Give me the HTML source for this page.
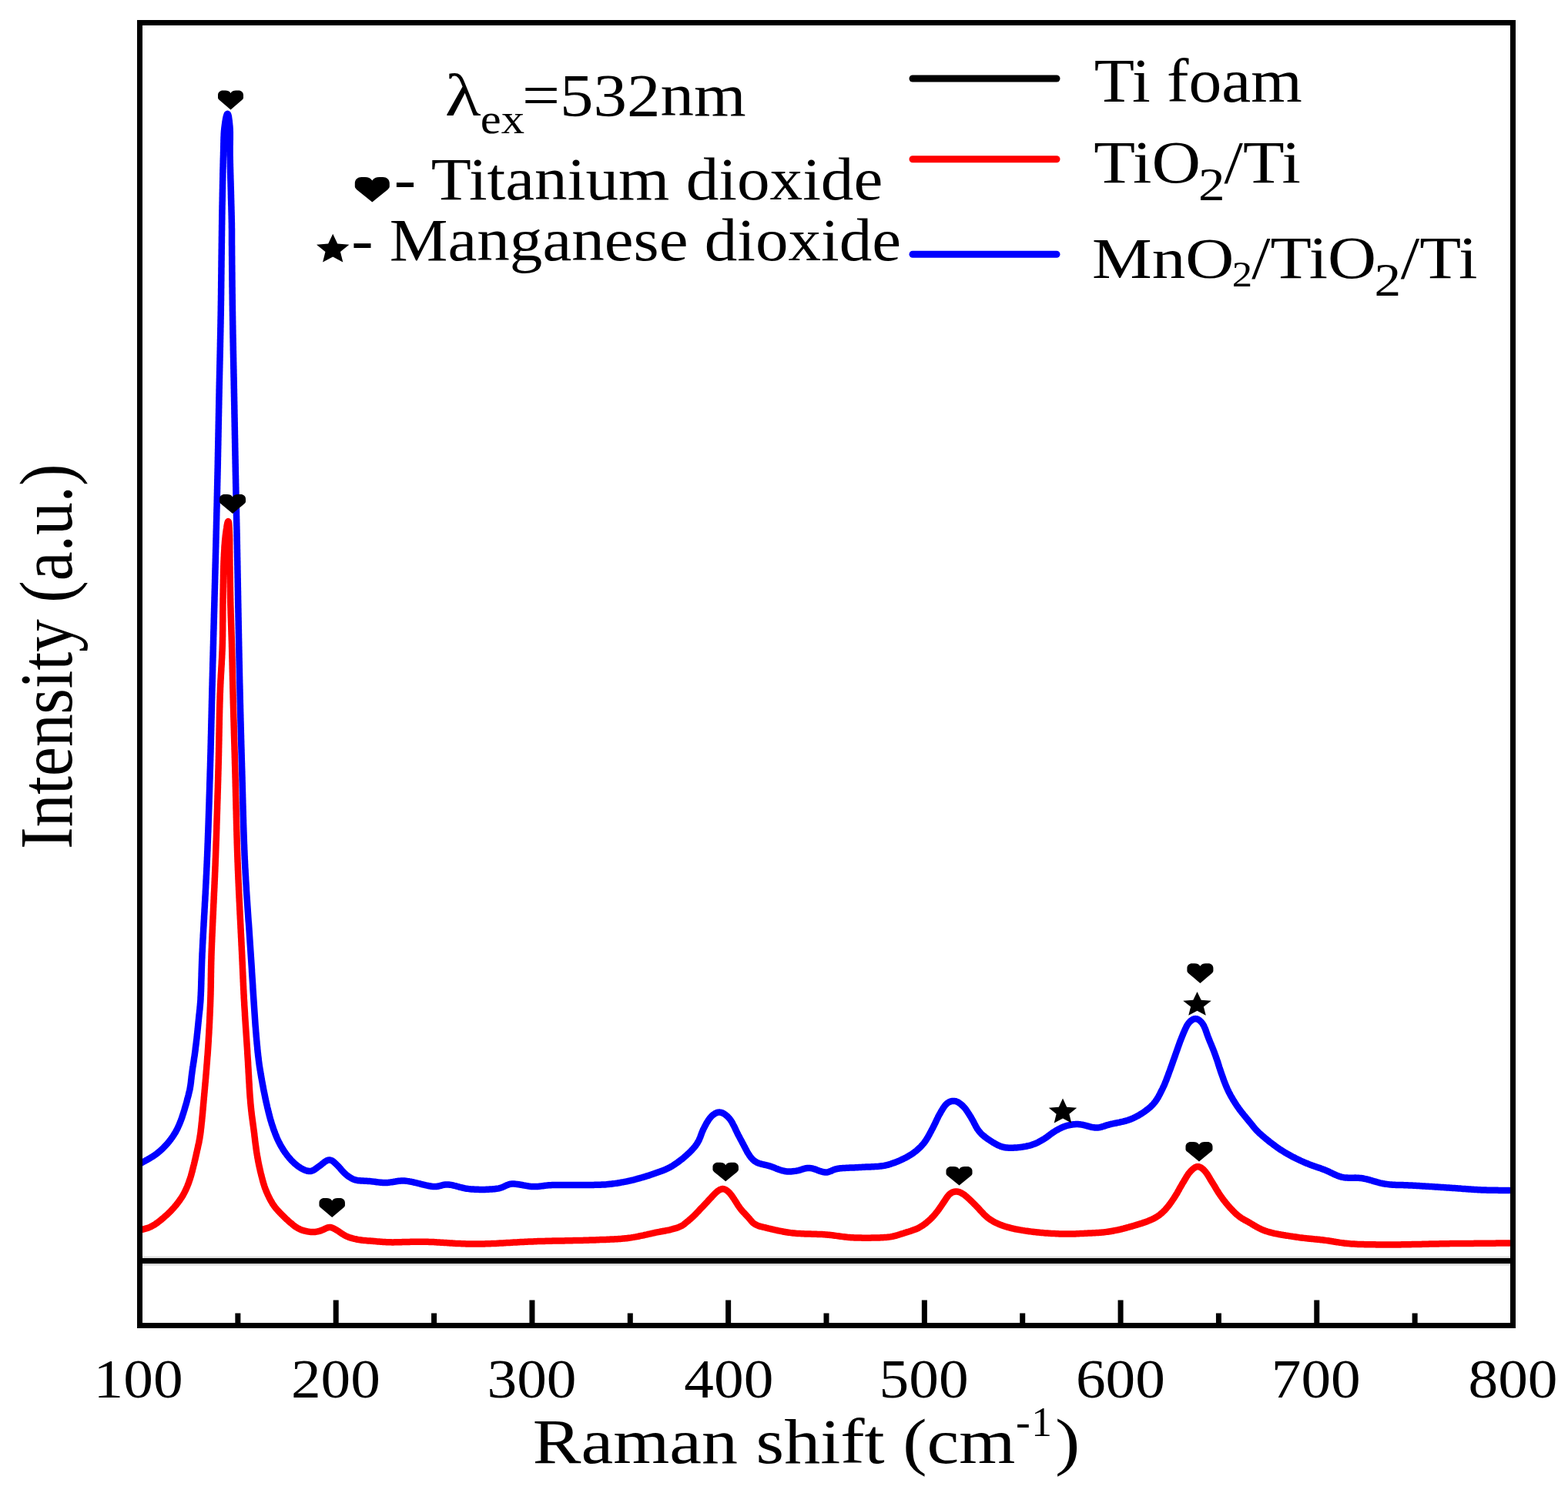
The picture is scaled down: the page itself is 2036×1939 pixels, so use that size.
<!DOCTYPE html>
<html><head><meta charset="utf-8"><title>Raman spectra</title>
<style>
html,body{margin:0;padding:0;background:#fff;}
body{width:2036px;height:1939px;overflow:hidden;}
svg{display:block;}
text{font-family:"Liberation Serif","Times New Roman",serif;}
</style></head>
<body>
<svg width="2036" height="1939" viewBox="0 0 2036 1939">
<rect width="2036" height="1939" fill="#fff"/>
<rect x="305.36" y="1705.50" width="7" height="16" fill="#000"/>
<rect x="432.71" y="1688.50" width="7" height="33" fill="#000"/>
<rect x="560.07" y="1705.50" width="7" height="16" fill="#000"/>
<rect x="687.43" y="1688.50" width="7" height="33" fill="#000"/>
<rect x="814.79" y="1705.50" width="7" height="16" fill="#000"/>
<rect x="942.14" y="1688.50" width="7" height="33" fill="#000"/>
<rect x="1069.50" y="1705.50" width="7" height="16" fill="#000"/>
<rect x="1196.86" y="1688.50" width="7" height="33" fill="#000"/>
<rect x="1324.21" y="1705.50" width="7" height="16" fill="#000"/>
<rect x="1451.57" y="1688.50" width="7" height="33" fill="#000"/>
<rect x="1578.93" y="1705.50" width="7" height="16" fill="#000"/>
<rect x="1706.29" y="1688.50" width="7" height="33" fill="#000"/>
<rect x="1833.64" y="1705.50" width="7" height="16" fill="#000"/>
<text transform="translate(121.57,1815.00) scale(1.0800,1)" font-size="71.60">100</text>
<text transform="translate(377.93,1815.00) scale(1.0800,1)" font-size="71.60">200</text>
<text transform="translate(632.55,1815.00) scale(1.0800,1)" font-size="71.60">300</text>
<text transform="translate(888.32,1815.00) scale(1.0800,1)" font-size="71.60">400</text>
<text transform="translate(1141.59,1815.00) scale(1.0800,1)" font-size="71.60">500</text>
<text transform="translate(1396.88,1815.00) scale(1.0800,1)" font-size="71.60">600</text>
<text transform="translate(1650.73,1815.00) scale(1.0800,1)" font-size="71.60">700</text>
<text transform="translate(1906.50,1815.00) scale(1.0800,1)" font-size="71.60">800</text>
<rect x="181.5" y="1634" width="1783.0" height="7" fill="#000"/>
<rect x="181.5" y="1631.5" width="1783.0" height="2.5" fill="#000" fill-opacity="0.12"/>
<rect x="181.5" y="1641" width="1783.0" height="2.5" fill="#000" fill-opacity="0.15"/>
<path d="M182.4,1597.5 L183.3,1597.3 L184.5,1596.9 L185.9,1596.5 L187.3,1596.2 L188.7,1595.7 L190.1,1595.3 L191.6,1594.9 L193.0,1594.4 L194.4,1593.8 L195.8,1593.2 L197.1,1592.5 L198.4,1591.8 L199.7,1591.1 L201.0,1590.3 L202.2,1589.4 L203.4,1588.6 L204.7,1587.7 L205.8,1586.8 L207.0,1585.9 L208.2,1584.9 L209.4,1584.0 L210.5,1583.0 L211.7,1582.1 L212.8,1581.1 L213.9,1580.1 L215.1,1579.1 L216.2,1578.1 L217.3,1577.1 L218.4,1576.1 L219.5,1575.0 L220.5,1574.0 L221.6,1572.9 L222.6,1571.8 L223.6,1570.7 L224.7,1569.6 L225.7,1568.5 L226.6,1567.4 L227.6,1566.2 L228.6,1565.1 L229.5,1563.9 L230.4,1562.7 L231.4,1561.5 L232.3,1560.3 L233.1,1559.1 L234.0,1557.9 L234.8,1556.7 L235.7,1555.4 L236.5,1554.1 L237.3,1552.9 L238.0,1551.6 L238.7,1550.3 L239.4,1548.9 L240.1,1547.6 L240.8,1546.2 L241.4,1544.9 L242.0,1543.5 L242.6,1542.1 L243.2,1540.8 L243.7,1539.4 L244.3,1538.0 L244.8,1536.6 L245.3,1535.2 L245.8,1533.7 L246.3,1532.3 L246.8,1530.9 L247.2,1529.5 L247.7,1528.0 L248.1,1526.6 L248.5,1525.1 L248.9,1523.7 L249.3,1522.2 L249.7,1520.8 L250.0,1519.3 L250.4,1517.9 L250.8,1516.4 L251.1,1515.0 L251.5,1513.5 L251.9,1512.1 L252.2,1510.6 L252.6,1509.2 L252.9,1507.7 L253.3,1506.2 L253.6,1504.8 L253.9,1503.3 L254.3,1501.8 L254.6,1500.4 L254.9,1498.9 L255.3,1497.5 L255.6,1496.0 L255.9,1494.5 L256.2,1493.1 L256.6,1491.6 L256.9,1490.1 L257.2,1488.7 L257.5,1487.2 L257.9,1485.7 L258.2,1484.3 L258.5,1482.8 L258.7,1481.3 L259.0,1479.9 L259.3,1478.4 L259.5,1476.9 L259.7,1475.4 L260.0,1473.9 L260.2,1472.4 L260.4,1471.0 L260.6,1469.5 L260.7,1468.0 L260.9,1466.5 L261.1,1465.0 L261.3,1463.5 L261.4,1462.0 L261.6,1460.5 L261.7,1459.0 L261.9,1457.5 L262.1,1456.1 L262.2,1454.6 L262.3,1453.1 L262.5,1451.6 L262.6,1450.1 L262.8,1448.6 L262.9,1447.1 L263.1,1445.6 L263.2,1444.1 L263.3,1442.6 L263.5,1441.1 L263.6,1439.6 L263.7,1438.1 L263.9,1436.6 L264.0,1435.1 L264.1,1433.6 L264.3,1432.2 L264.4,1430.7 L264.5,1429.2 L264.7,1427.7 L264.8,1426.2 L264.9,1424.7 L265.1,1423.2 L265.2,1421.7 L265.3,1420.2 L265.5,1418.7 L265.6,1417.2 L265.7,1415.7 L265.9,1414.2 L266.0,1412.7 L266.1,1411.2 L266.3,1409.7 L266.4,1408.2 L266.5,1406.7 L266.7,1405.3 L266.8,1403.8 L266.9,1402.3 L267.1,1400.8 L267.2,1399.3 L267.3,1397.8 L267.4,1396.3 L267.6,1394.8 L267.7,1393.3 L267.8,1391.8 L267.9,1390.3 L268.1,1388.8 L268.2,1387.3 L268.3,1385.8 L268.4,1384.3 L268.5,1382.8 L268.7,1381.3 L268.8,1379.8 L268.9,1378.3 L269.0,1376.8 L269.1,1375.4 L269.2,1373.9 L269.3,1372.4 L269.5,1370.9 L269.6,1369.4 L269.7,1367.9 L269.8,1366.4 L269.9,1364.9 L270.0,1363.4 L270.1,1361.9 L270.2,1360.4 L270.3,1358.9 L270.4,1357.4 L270.5,1355.9 L270.6,1354.4 L270.7,1352.9 L270.8,1351.4 L270.8,1349.9 L270.9,1348.4 L271.0,1346.9 L271.1,1345.4 L271.2,1343.9 L271.3,1342.4 L271.4,1340.9 L271.4,1339.4 L271.5,1337.9 L271.6,1336.4 L271.7,1334.9 L271.8,1333.4 L271.8,1331.9 L271.9,1330.4 L272.0,1328.9 L272.1,1327.4 L272.1,1325.9 L272.2,1324.4 L272.3,1322.9 L272.3,1321.4 L272.4,1319.9 L272.5,1318.4 L272.5,1316.9 L272.6,1315.4 L272.7,1313.9 L272.7,1312.4 L272.8,1310.9 L272.8,1309.5 L272.9,1308.0 L273.0,1306.5 L273.0,1305.0 L273.1,1303.5 L273.1,1302.0 L273.2,1300.5 L273.2,1299.0 L273.3,1297.5 L273.3,1296.0 L273.4,1294.5 L273.4,1293.0 L273.5,1291.5 L273.5,1290.0 L273.5,1288.5 L273.6,1287.0 L273.6,1285.5 L273.6,1284.0 L273.7,1282.5 L273.7,1281.0 L273.7,1279.5 L273.7,1278.0 L273.8,1276.5 L273.8,1275.0 L273.8,1273.5 L273.8,1272.0 L273.8,1270.5 L273.9,1269.0 L273.9,1267.5 L273.9,1266.0 L273.9,1264.5 L274.0,1263.0 L274.0,1261.5 L274.0,1260.0 L274.0,1258.5 L274.1,1257.0 L274.1,1255.5 L274.1,1254.0 L274.2,1252.5 L274.2,1251.0 L274.2,1249.5 L274.3,1248.0 L274.3,1246.5 L274.4,1245.0 L274.4,1243.5 L274.4,1242.0 L274.5,1240.5 L274.5,1239.0 L274.6,1237.5 L274.6,1236.0 L274.7,1234.5 L274.7,1233.0 L274.8,1231.5 L274.9,1230.0 L274.9,1228.5 L275.0,1227.0 L275.0,1225.5 L275.1,1224.0 L275.2,1222.5 L275.2,1221.0 L275.3,1219.5 L275.3,1218.0 L275.4,1216.5 L275.5,1215.0 L275.5,1213.5 L275.6,1212.0 L275.7,1210.5 L275.7,1209.0 L275.8,1207.5 L275.9,1206.0 L275.9,1204.5 L276.0,1203.0 L276.1,1201.5 L276.1,1200.0 L276.2,1198.5 L276.3,1197.0 L276.3,1195.5 L276.4,1194.0 L276.5,1192.5 L276.5,1191.0 L276.6,1189.5 L276.7,1188.0 L276.8,1186.5 L276.8,1185.0 L276.9,1183.5 L277.0,1182.0 L277.0,1180.5 L277.1,1179.0 L277.2,1177.5 L277.2,1176.0 L277.3,1174.5 L277.4,1173.0 L277.5,1171.5 L277.5,1170.0 L277.6,1168.5 L277.7,1167.0 L277.7,1165.5 L277.8,1164.0 L277.9,1162.5 L277.9,1161.0 L278.0,1159.5 L278.1,1158.0 L278.2,1156.5 L278.2,1155.0 L278.3,1153.5 L278.4,1152.0 L278.4,1150.5 L278.5,1149.0 L278.6,1147.5 L278.6,1146.0 L278.7,1144.5 L278.8,1143.0 L278.8,1141.5 L278.9,1140.0 L279.0,1138.5 L279.0,1137.0 L279.1,1135.6 L279.1,1134.1 L279.2,1132.6 L279.3,1131.1 L279.3,1129.6 L279.4,1128.1 L279.4,1126.6 L279.5,1125.1 L279.6,1123.6 L279.6,1122.1 L279.7,1120.6 L279.7,1119.1 L279.8,1117.6 L279.8,1116.1 L279.9,1114.6 L280.0,1113.1 L280.0,1111.6 L280.1,1110.1 L280.1,1108.6 L280.2,1107.1 L280.2,1105.6 L280.3,1104.1 L280.3,1102.6 L280.4,1101.1 L280.4,1099.6 L280.5,1098.1 L280.5,1096.6 L280.6,1095.1 L280.6,1093.6 L280.7,1092.1 L280.8,1090.6 L280.8,1089.1 L280.9,1087.6 L280.9,1086.1 L281.0,1084.6 L281.0,1083.1 L281.1,1081.6 L281.1,1080.1 L281.2,1078.6 L281.2,1077.1 L281.3,1075.6 L281.3,1074.1 L281.3,1072.6 L281.4,1071.1 L281.4,1069.6 L281.5,1068.1 L281.5,1066.6 L281.6,1065.1 L281.6,1063.6 L281.7,1062.1 L281.7,1060.6 L281.8,1059.1 L281.8,1057.6 L281.9,1056.1 L281.9,1054.6 L282.0,1053.1 L282.0,1051.6 L282.1,1050.1 L282.1,1048.6 L282.1,1047.1 L282.2,1045.6 L282.2,1044.1 L282.3,1042.6 L282.3,1041.1 L282.4,1039.6 L282.4,1038.1 L282.5,1036.6 L282.5,1035.1 L282.5,1033.6 L282.6,1032.1 L282.6,1030.6 L282.7,1029.1 L282.7,1027.6 L282.8,1026.1 L282.8,1024.6 L282.9,1023.1 L282.9,1021.6 L282.9,1020.1 L283.0,1018.6 L283.0,1017.1 L283.1,1015.6 L283.1,1014.1 L283.2,1012.6 L283.2,1011.1 L283.2,1009.6 L283.3,1008.1 L283.3,1006.6 L283.4,1005.1 L283.4,1003.6 L283.4,1002.1 L283.5,1000.6 L283.5,999.1 L283.6,997.6 L283.6,996.1 L283.6,994.6 L283.7,993.1 L283.7,991.6 L283.8,990.1 L283.8,988.6 L283.8,987.1 L283.9,985.6 L283.9,984.1 L283.9,982.6 L284.0,981.1 L284.0,979.6 L284.0,978.1 L284.1,976.6 L284.1,975.1 L284.1,973.6 L284.1,972.1 L284.2,970.6 L284.2,969.1 L284.2,967.6 L284.3,966.1 L284.3,964.6 L284.3,963.1 L284.4,961.6 L284.4,960.1 L284.4,958.6 L284.4,957.1 L284.5,955.6 L284.5,954.1 L284.5,952.6 L284.6,951.1 L284.6,949.6 L284.6,948.1 L284.6,946.6 L284.7,945.1 L284.7,943.6 L284.7,942.1 L284.8,940.6 L284.8,939.1 L284.8,937.6 L284.8,936.1 L284.9,934.6 L284.9,933.1 L284.9,931.6 L285.0,930.1 L285.0,928.6 L285.0,927.1 L285.1,925.6 L285.1,924.1 L285.1,922.6 L285.2,921.1 L285.2,919.6 L285.3,918.1 L285.3,916.6 L285.3,915.1 L285.4,913.6 L285.4,912.1 L285.5,910.6 L285.5,909.1 L285.6,907.6 L285.6,906.1 L285.6,904.6 L285.7,903.1 L285.7,901.6 L285.8,900.1 L285.9,898.6 L285.9,897.1 L286.0,895.6 L286.0,894.1 L286.1,892.6 L286.2,891.1 L286.2,889.6 L286.3,888.1 L286.4,886.6 L286.4,885.1 L286.5,883.6 L286.6,882.1 L286.7,880.6 L286.8,879.1 L286.8,877.6 L286.9,876.1 L287.0,874.6 L287.1,873.1 L287.2,871.7 L287.3,870.2 L287.3,868.7 L287.4,867.2 L287.5,865.7 L287.6,864.2 L287.7,862.7 L287.8,861.2 L287.8,859.7 L287.9,858.2 L288.0,856.7 L288.1,855.2 L288.2,853.7 L288.2,852.2 L288.3,850.7 L288.4,849.2 L288.4,847.7 L288.5,846.2 L288.6,844.7 L288.6,843.2 L288.7,841.7 L288.7,840.2 L288.8,838.7 L288.8,837.2 L288.9,835.7 L288.9,834.2 L288.9,832.7 L289.0,831.2 L289.0,829.7 L289.0,828.2 L289.1,826.7 L289.1,825.2 L289.1,823.7 L289.1,822.2 L289.1,820.7 L289.2,819.2 L289.2,817.7 L289.2,816.2 L289.2,814.7 L289.2,813.2 L289.2,811.7 L289.2,810.2 L289.2,808.7 L289.3,807.2 L289.3,805.7 L289.3,804.2 L289.3,802.7 L289.3,801.2 L289.3,799.7 L289.3,798.2 L289.3,796.7 L289.3,795.2 L289.3,793.7 L289.4,792.2 L289.4,790.7 L289.4,789.2 L289.4,787.7 L289.4,786.2 L289.4,784.7 L289.5,783.2 L289.5,781.7 L289.5,780.2 L289.5,778.7 L289.5,777.2 L289.6,775.7 L289.6,774.2 L289.6,772.7 L289.6,771.2 L289.7,769.7 L289.7,768.2 L289.7,766.7 L289.7,765.2 L289.8,763.7 L289.8,762.2 L289.8,760.7 L289.8,759.2 L289.9,757.7 L289.9,756.2 L289.9,754.7 L289.9,753.2 L290.0,751.7 L290.0,750.2 L290.0,748.7 L290.0,747.2 L290.1,745.7 L290.1,744.2 L290.1,742.7 L290.2,741.2 L290.2,739.7 L290.3,738.2 L290.3,736.7 L290.3,735.2 L290.4,733.7 L290.4,732.2 L290.5,730.7 L290.5,729.2 L290.6,727.7 L290.7,726.2 L290.7,724.7 L290.8,723.2 L290.9,721.7 L290.9,720.2 L291.0,718.7 L291.1,717.2 L291.2,715.7 L291.3,714.2 L291.4,712.7 L291.4,711.2 L291.5,709.7 L291.6,708.2 L291.8,706.7 L291.9,705.2 L292.0,703.7 L292.1,702.2 L292.3,700.7 L292.4,699.3 L292.6,697.8 L292.7,696.3 L292.9,694.8 L293.1,693.3 L293.3,691.8 L293.5,690.3 L293.7,688.8 L293.9,687.3 L294.2,685.9 L294.4,684.4 L294.6,682.9 L294.9,681.4 L295.2,680.0 L295.5,678.7 L295.9,677.6 L296.3,677.1 L296.6,677.2 L296.9,678.0 L297.2,679.2 L297.3,680.6 L297.4,682.1 L297.5,683.6 L297.6,685.1 L297.7,686.6 L297.7,688.1 L297.8,689.6 L297.9,691.1 L297.9,692.6 L298.0,694.1 L298.1,695.6 L298.1,697.1 L298.1,698.6 L298.2,700.1 L298.2,701.6 L298.2,703.1 L298.2,704.6 L298.2,706.1 L298.2,707.6 L298.2,709.1 L298.2,710.6 L298.2,712.1 L298.2,713.6 L298.2,715.1 L298.3,716.6 L298.3,718.1 L298.3,719.6 L298.3,721.1 L298.3,722.6 L298.3,724.1 L298.3,725.6 L298.4,727.1 L298.4,728.6 L298.4,730.1 L298.4,731.6 L298.4,733.1 L298.4,734.6 L298.5,736.1 L298.5,737.6 L298.5,739.1 L298.5,740.6 L298.5,742.1 L298.6,743.6 L298.6,745.1 L298.6,746.6 L298.6,748.1 L298.7,749.6 L298.7,751.1 L298.7,752.6 L298.7,754.1 L298.7,755.6 L298.8,757.1 L298.8,758.6 L298.8,760.1 L298.8,761.6 L298.9,763.1 L298.9,764.6 L298.9,766.1 L298.9,767.6 L299.0,769.1 L299.0,770.6 L299.0,772.1 L299.1,773.6 L299.1,775.1 L299.1,776.6 L299.2,778.1 L299.2,779.6 L299.2,781.1 L299.3,782.6 L299.3,784.1 L299.3,785.6 L299.4,787.1 L299.4,788.6 L299.5,790.1 L299.5,791.6 L299.6,793.1 L299.6,794.6 L299.6,796.1 L299.7,797.5 L299.7,799.0 L299.8,800.5 L299.8,802.0 L299.9,803.5 L299.9,805.0 L300.0,806.5 L300.0,808.0 L300.1,809.5 L300.1,811.0 L300.2,812.5 L300.2,814.0 L300.3,815.5 L300.3,817.0 L300.4,818.5 L300.4,820.0 L300.5,821.5 L300.5,823.0 L300.6,824.5 L300.6,826.0 L300.7,827.5 L300.7,829.0 L300.8,830.5 L300.8,832.0 L300.9,833.5 L300.9,835.0 L301.0,836.5 L301.0,838.0 L301.0,839.5 L301.1,841.0 L301.1,842.5 L301.2,844.0 L301.2,845.5 L301.2,847.0 L301.3,848.5 L301.3,850.0 L301.3,851.5 L301.4,853.0 L301.4,854.5 L301.5,856.0 L301.5,857.5 L301.5,859.0 L301.6,860.5 L301.6,862.0 L301.6,863.5 L301.7,865.0 L301.7,866.5 L301.7,868.0 L301.8,869.5 L301.8,871.0 L301.8,872.5 L301.9,874.0 L301.9,875.5 L301.9,877.0 L302.0,878.5 L302.0,880.0 L302.0,881.5 L302.1,883.0 L302.1,884.5 L302.2,886.0 L302.2,887.5 L302.2,889.0 L302.3,890.5 L302.3,892.0 L302.3,893.5 L302.4,895.0 L302.4,896.5 L302.4,898.0 L302.5,899.5 L302.5,901.0 L302.6,902.5 L302.6,904.0 L302.6,905.5 L302.7,907.0 L302.7,908.5 L302.8,910.0 L302.8,911.5 L302.8,913.0 L302.9,914.5 L302.9,916.0 L303.0,917.5 L303.0,919.0 L303.1,920.5 L303.1,922.0 L303.1,923.5 L303.2,925.0 L303.2,926.5 L303.3,928.0 L303.3,929.5 L303.3,931.0 L303.4,932.5 L303.4,934.0 L303.5,935.5 L303.5,937.0 L303.6,938.5 L303.6,940.0 L303.6,941.5 L303.7,943.0 L303.7,944.5 L303.8,946.0 L303.8,947.5 L303.9,949.0 L303.9,950.5 L303.9,952.0 L304.0,953.5 L304.0,955.0 L304.1,956.5 L304.1,958.0 L304.2,959.5 L304.2,961.0 L304.2,962.5 L304.3,964.0 L304.3,965.5 L304.4,967.0 L304.4,968.5 L304.5,970.0 L304.5,971.5 L304.5,973.0 L304.6,974.5 L304.6,976.0 L304.7,977.5 L304.7,979.0 L304.8,980.5 L304.8,982.0 L304.8,983.5 L304.9,985.0 L304.9,986.5 L305.0,988.0 L305.0,989.5 L305.0,991.0 L305.1,992.5 L305.1,994.0 L305.2,995.5 L305.2,997.0 L305.3,998.5 L305.3,1000.0 L305.3,1001.5 L305.4,1003.0 L305.4,1004.5 L305.5,1006.0 L305.5,1007.5 L305.5,1009.0 L305.6,1010.5 L305.6,1012.0 L305.7,1013.5 L305.7,1015.0 L305.7,1016.5 L305.8,1018.0 L305.8,1019.5 L305.8,1021.0 L305.9,1022.5 L305.9,1024.0 L306.0,1025.5 L306.0,1027.0 L306.0,1028.5 L306.1,1030.0 L306.1,1031.5 L306.1,1033.0 L306.2,1034.5 L306.2,1036.0 L306.3,1037.5 L306.3,1039.0 L306.3,1040.5 L306.4,1042.0 L306.4,1043.5 L306.4,1045.0 L306.5,1046.5 L306.5,1048.0 L306.5,1049.5 L306.6,1051.0 L306.6,1052.5 L306.7,1054.0 L306.7,1055.5 L306.7,1057.0 L306.8,1058.5 L306.8,1060.0 L306.8,1061.5 L306.9,1063.0 L306.9,1064.5 L307.0,1066.0 L307.0,1067.5 L307.0,1069.0 L307.1,1070.5 L307.1,1072.0 L307.2,1073.5 L307.2,1075.0 L307.2,1076.5 L307.3,1078.0 L307.3,1079.5 L307.4,1081.0 L307.4,1082.5 L307.4,1084.0 L307.5,1085.5 L307.5,1087.0 L307.6,1088.5 L307.6,1090.0 L307.7,1091.5 L307.7,1093.0 L307.7,1094.5 L307.8,1096.0 L307.8,1097.5 L307.9,1099.0 L307.9,1100.5 L308.0,1102.0 L308.0,1103.5 L308.1,1105.0 L308.1,1106.5 L308.2,1108.0 L308.2,1109.5 L308.3,1111.0 L308.3,1112.5 L308.4,1114.0 L308.4,1115.5 L308.5,1117.0 L308.5,1118.5 L308.6,1120.0 L308.7,1121.5 L308.7,1123.0 L308.8,1124.5 L308.8,1126.0 L308.9,1127.5 L308.9,1129.0 L309.0,1130.5 L309.1,1132.0 L309.1,1133.5 L309.2,1135.0 L309.3,1136.5 L309.3,1138.0 L309.4,1139.5 L309.4,1141.0 L309.5,1142.5 L309.6,1143.9 L309.6,1145.4 L309.7,1146.9 L309.8,1148.4 L309.8,1149.9 L309.9,1151.4 L310.0,1152.9 L310.0,1154.4 L310.1,1155.9 L310.2,1157.4 L310.2,1158.9 L310.3,1160.4 L310.4,1161.9 L310.5,1163.4 L310.5,1164.9 L310.6,1166.4 L310.7,1167.9 L310.7,1169.4 L310.8,1170.9 L310.9,1172.4 L311.0,1173.9 L311.0,1175.4 L311.1,1176.9 L311.2,1178.4 L311.2,1179.9 L311.3,1181.4 L311.4,1182.9 L311.5,1184.4 L311.5,1185.9 L311.6,1187.4 L311.7,1188.9 L311.8,1190.4 L311.8,1191.9 L311.9,1193.4 L312.0,1194.9 L312.1,1196.4 L312.1,1197.9 L312.2,1199.4 L312.3,1200.9 L312.4,1202.4 L312.4,1203.9 L312.5,1205.4 L312.6,1206.9 L312.7,1208.4 L312.7,1209.9 L312.8,1211.4 L312.9,1212.9 L313.0,1214.4 L313.0,1215.9 L313.1,1217.4 L313.2,1218.9 L313.3,1220.4 L313.3,1221.9 L313.4,1223.4 L313.5,1224.9 L313.5,1226.4 L313.6,1227.9 L313.7,1229.4 L313.8,1230.9 L313.8,1232.4 L313.9,1233.9 L314.0,1235.4 L314.1,1236.9 L314.1,1238.4 L314.2,1239.9 L314.3,1241.3 L314.3,1242.8 L314.4,1244.3 L314.5,1245.8 L314.5,1247.3 L314.6,1248.8 L314.7,1250.3 L314.7,1251.8 L314.8,1253.3 L314.9,1254.8 L314.9,1256.3 L315.0,1257.8 L315.1,1259.3 L315.1,1260.8 L315.2,1262.3 L315.3,1263.8 L315.3,1265.3 L315.4,1266.8 L315.5,1268.3 L315.5,1269.8 L315.6,1271.3 L315.7,1272.8 L315.7,1274.3 L315.8,1275.8 L315.9,1277.3 L315.9,1278.8 L316.0,1280.3 L316.1,1281.8 L316.1,1283.3 L316.2,1284.8 L316.3,1286.3 L316.4,1287.8 L316.4,1289.3 L316.5,1290.8 L316.6,1292.3 L316.7,1293.8 L316.7,1295.3 L316.8,1296.8 L316.9,1298.3 L317.0,1299.8 L317.1,1301.3 L317.2,1302.8 L317.2,1304.3 L317.3,1305.8 L317.4,1307.3 L317.5,1308.8 L317.6,1310.3 L317.7,1311.8 L317.8,1313.3 L317.9,1314.8 L318.0,1316.3 L318.0,1317.8 L318.1,1319.3 L318.2,1320.8 L318.3,1322.3 L318.4,1323.8 L318.5,1325.2 L318.6,1326.7 L318.7,1328.2 L318.8,1329.7 L318.9,1331.2 L319.0,1332.7 L319.1,1334.2 L319.2,1335.7 L319.3,1337.2 L319.4,1338.7 L319.5,1340.2 L319.6,1341.7 L319.7,1343.2 L319.8,1344.7 L319.9,1346.2 L320.0,1347.7 L320.1,1349.2 L320.2,1350.7 L320.3,1352.2 L320.4,1353.7 L320.5,1355.2 L320.6,1356.7 L320.7,1358.2 L320.8,1359.7 L320.9,1361.2 L321.0,1362.7 L321.1,1364.2 L321.2,1365.7 L321.2,1367.2 L321.3,1368.7 L321.4,1370.2 L321.5,1371.7 L321.6,1373.2 L321.7,1374.7 L321.8,1376.2 L321.9,1377.6 L322.0,1379.1 L322.1,1380.6 L322.1,1382.1 L322.2,1383.6 L322.3,1385.1 L322.4,1386.6 L322.5,1388.1 L322.6,1389.6 L322.6,1391.1 L322.7,1392.6 L322.8,1394.1 L322.9,1395.6 L323.0,1397.1 L323.1,1398.6 L323.1,1400.1 L323.2,1401.6 L323.3,1403.1 L323.4,1404.6 L323.5,1406.1 L323.6,1407.6 L323.7,1409.1 L323.7,1410.6 L323.8,1412.1 L323.9,1413.6 L324.0,1415.1 L324.1,1416.6 L324.2,1418.1 L324.3,1419.6 L324.4,1421.1 L324.5,1422.6 L324.6,1424.1 L324.7,1425.6 L324.9,1427.1 L325.0,1428.6 L325.1,1430.1 L325.2,1431.6 L325.3,1433.0 L325.5,1434.5 L325.6,1436.0 L325.8,1437.5 L325.9,1439.0 L326.1,1440.5 L326.2,1442.0 L326.4,1443.5 L326.6,1445.0 L326.7,1446.5 L326.9,1448.0 L327.1,1449.5 L327.3,1450.9 L327.5,1452.4 L327.7,1453.9 L327.9,1455.4 L328.1,1456.9 L328.3,1458.4 L328.5,1459.9 L328.7,1461.3 L328.9,1462.8 L329.1,1464.3 L329.3,1465.8 L329.5,1467.3 L329.7,1468.8 L329.9,1470.3 L330.1,1471.8 L330.3,1473.2 L330.4,1474.7 L330.6,1476.2 L330.8,1477.7 L331.0,1479.2 L331.1,1480.7 L331.3,1482.2 L331.5,1483.7 L331.7,1485.2 L331.9,1486.7 L332.1,1488.1 L332.3,1489.6 L332.5,1491.1 L332.7,1492.6 L332.9,1494.1 L333.1,1495.6 L333.3,1497.0 L333.6,1498.5 L333.8,1500.0 L334.1,1501.5 L334.3,1503.0 L334.6,1504.4 L334.9,1505.9 L335.1,1507.4 L335.4,1508.9 L335.7,1510.3 L336.0,1511.8 L336.3,1513.3 L336.6,1514.7 L336.9,1516.2 L337.3,1517.7 L337.6,1519.1 L337.9,1520.6 L338.3,1522.1 L338.6,1523.5 L339.0,1525.0 L339.3,1526.4 L339.7,1527.9 L340.1,1529.3 L340.5,1530.8 L340.8,1532.2 L341.2,1533.7 L341.6,1535.1 L342.1,1536.6 L342.5,1538.0 L343.0,1539.4 L343.4,1540.9 L343.9,1542.3 L344.4,1543.7 L345.0,1545.1 L345.5,1546.5 L346.1,1547.9 L346.7,1549.2 L347.3,1550.6 L347.9,1552.0 L348.6,1553.3 L349.2,1554.7 L349.9,1556.0 L350.6,1557.4 L351.3,1558.7 L352.0,1560.0 L352.8,1561.3 L353.5,1562.6 L354.3,1563.8 L355.2,1565.1 L356.0,1566.3 L356.9,1567.5 L357.8,1568.7 L358.8,1569.9 L359.8,1571.0 L360.8,1572.1 L361.8,1573.2 L362.8,1574.3 L363.9,1575.4 L364.9,1576.5 L365.9,1577.5 L367.0,1578.6 L368.1,1579.7 L369.2,1580.7 L370.2,1581.7 L371.3,1582.8 L372.4,1583.8 L373.6,1584.8 L374.7,1585.8 L375.8,1586.8 L376.9,1587.8 L378.1,1588.7 L379.2,1589.7 L380.3,1590.7 L381.5,1591.6 L382.7,1592.5 L383.9,1593.4 L385.2,1594.2 L386.5,1595.0 L387.8,1595.6 L389.2,1596.3 L390.5,1596.9 L391.9,1597.4 L393.4,1597.9 L394.8,1598.3 L396.2,1598.7 L397.7,1599.0 L399.2,1599.3 L400.7,1599.6 L402.1,1599.8 L403.6,1599.9 L405.1,1600.0 L406.6,1600.0 L408.1,1600.0 L409.6,1599.9 L411.1,1599.6 L412.5,1599.3 L414.0,1599.0 L415.4,1598.6 L416.9,1598.1 L418.3,1597.6 L419.6,1597.0 L421.0,1596.4 L422.3,1595.7 L423.7,1595.1 L425.1,1594.5 L426.5,1594.1 L427.9,1593.9 L429.3,1594.0 L430.7,1594.3 L432.1,1594.9 L433.4,1595.5 L434.7,1596.2 L436.0,1597.0 L437.3,1597.7 L438.6,1598.5 L439.8,1599.3 L441.1,1600.2 L442.3,1601.0 L443.6,1601.9 L444.8,1602.7 L446.1,1603.5 L447.4,1604.3 L448.7,1605.0 L450.0,1605.6 L451.4,1606.2 L452.8,1606.8 L454.2,1607.3 L455.7,1607.7 L457.1,1608.1 L458.5,1608.5 L460.0,1608.9 L461.5,1609.2 L462.9,1609.5 L464.4,1609.8 L465.9,1610.1 L467.4,1610.3 L468.8,1610.5 L470.3,1610.7 L471.8,1610.9 L473.3,1611.0 L474.8,1611.1 L476.3,1611.3 L477.8,1611.4 L479.3,1611.5 L480.8,1611.6 L482.3,1611.7 L483.8,1611.8 L485.3,1612.0 L486.8,1612.1 L488.3,1612.2 L489.8,1612.4 L491.3,1612.5 L492.7,1612.6 L494.2,1612.7 L495.7,1612.8 L497.2,1612.9 L498.7,1613.0 L500.2,1613.1 L501.7,1613.2 L503.2,1613.2 L504.7,1613.3 L506.2,1613.3 L507.7,1613.3 L509.2,1613.4 L510.7,1613.4 L512.2,1613.3 L513.7,1613.3 L515.2,1613.3 L516.7,1613.3 L518.2,1613.2 L519.7,1613.2 L521.2,1613.2 L522.7,1613.1 L524.2,1613.1 L525.7,1613.0 L527.2,1613.0 L528.7,1613.0 L530.2,1612.9 L531.7,1612.9 L533.2,1612.8 L534.7,1612.8 L536.2,1612.8 L537.7,1612.7 L539.2,1612.7 L540.7,1612.7 L542.2,1612.7 L543.7,1612.7 L545.2,1612.7 L546.7,1612.7 L548.2,1612.7 L549.7,1612.7 L551.2,1612.7 L552.7,1612.7 L554.2,1612.8 L555.7,1612.8 L557.2,1612.9 L558.7,1612.9 L560.2,1613.0 L561.7,1613.1 L563.2,1613.1 L564.7,1613.2 L566.2,1613.3 L567.7,1613.4 L569.2,1613.5 L570.7,1613.6 L572.2,1613.7 L573.7,1613.8 L575.2,1613.8 L576.7,1613.9 L578.2,1614.0 L579.7,1614.1 L581.2,1614.2 L582.7,1614.3 L584.2,1614.4 L585.7,1614.5 L587.2,1614.6 L588.7,1614.7 L590.2,1614.8 L591.7,1614.9 L593.2,1614.9 L594.7,1615.0 L596.2,1615.1 L597.7,1615.1 L599.2,1615.2 L600.7,1615.3 L602.2,1615.3 L603.7,1615.3 L605.2,1615.4 L606.7,1615.4 L608.2,1615.4 L609.7,1615.5 L611.2,1615.5 L612.7,1615.5 L614.2,1615.5 L615.7,1615.5 L617.2,1615.5 L618.7,1615.5 L620.2,1615.5 L621.7,1615.5 L623.2,1615.5 L624.7,1615.5 L626.2,1615.4 L627.7,1615.4 L629.2,1615.4 L630.7,1615.3 L632.2,1615.3 L633.7,1615.3 L635.2,1615.2 L636.7,1615.2 L638.2,1615.1 L639.7,1615.1 L641.2,1615.0 L642.7,1614.9 L644.2,1614.9 L645.7,1614.8 L647.1,1614.7 L648.6,1614.6 L650.1,1614.6 L651.6,1614.5 L653.1,1614.4 L654.6,1614.3 L656.1,1614.2 L657.6,1614.1 L659.1,1614.1 L660.6,1614.0 L662.1,1613.9 L663.6,1613.8 L665.1,1613.7 L666.6,1613.6 L668.1,1613.5 L669.6,1613.5 L671.1,1613.4 L672.6,1613.3 L674.1,1613.2 L675.6,1613.1 L677.1,1613.0 L678.6,1613.0 L680.1,1612.9 L681.6,1612.8 L683.1,1612.7 L684.6,1612.7 L686.1,1612.6 L687.6,1612.5 L689.1,1612.5 L690.6,1612.4 L692.1,1612.4 L693.6,1612.3 L695.1,1612.2 L696.6,1612.2 L698.1,1612.1 L699.6,1612.1 L701.1,1612.0 L702.6,1612.0 L704.1,1612.0 L705.6,1611.9 L707.1,1611.9 L708.6,1611.8 L710.1,1611.8 L711.6,1611.8 L713.1,1611.7 L714.6,1611.7 L716.1,1611.7 L717.6,1611.6 L719.1,1611.6 L720.6,1611.6 L722.1,1611.6 L723.6,1611.5 L725.1,1611.5 L726.6,1611.5 L728.1,1611.4 L729.6,1611.4 L731.1,1611.4 L732.6,1611.4 L734.1,1611.3 L735.6,1611.3 L737.1,1611.3 L738.6,1611.2 L740.1,1611.2 L741.6,1611.2 L743.1,1611.2 L744.6,1611.1 L746.1,1611.1 L747.6,1611.1 L749.1,1611.0 L750.6,1611.0 L752.1,1611.0 L753.6,1610.9 L755.1,1610.9 L756.6,1610.9 L758.1,1610.8 L759.6,1610.8 L761.1,1610.8 L762.6,1610.7 L764.1,1610.7 L765.6,1610.6 L767.1,1610.6 L768.6,1610.5 L770.1,1610.5 L771.6,1610.4 L773.1,1610.4 L774.6,1610.3 L776.1,1610.2 L777.6,1610.2 L779.1,1610.1 L780.6,1610.1 L782.1,1610.0 L783.6,1610.0 L785.1,1609.9 L786.6,1609.9 L788.1,1609.8 L789.6,1609.7 L791.1,1609.7 L792.6,1609.6 L794.1,1609.6 L795.6,1609.5 L797.1,1609.4 L798.6,1609.3 L800.1,1609.3 L801.6,1609.2 L803.1,1609.1 L804.5,1609.0 L806.0,1608.9 L807.5,1608.7 L809.0,1608.6 L810.5,1608.5 L812.0,1608.3 L813.5,1608.2 L815.0,1608.0 L816.5,1607.8 L818.0,1607.6 L819.5,1607.4 L820.9,1607.1 L822.4,1606.9 L823.9,1606.6 L825.4,1606.4 L826.8,1606.1 L828.3,1605.8 L829.8,1605.5 L831.3,1605.2 L832.7,1604.9 L834.2,1604.6 L835.7,1604.3 L837.1,1603.9 L838.6,1603.6 L840.1,1603.3 L841.5,1602.9 L843.0,1602.6 L844.4,1602.3 L845.9,1602.0 L847.4,1601.6 L848.8,1601.3 L850.3,1601.0 L851.8,1600.7 L853.2,1600.4 L854.7,1600.1 L856.2,1599.8 L857.7,1599.5 L859.1,1599.3 L860.6,1599.0 L862.1,1598.7 L863.6,1598.5 L865.0,1598.2 L866.5,1597.9 L868.0,1597.6 L869.4,1597.3 L870.9,1596.9 L872.3,1596.5 L873.8,1596.1 L875.2,1595.7 L876.7,1595.3 L878.1,1594.9 L879.5,1594.4 L880.9,1593.9 L882.3,1593.3 L883.7,1592.7 L885.0,1592.1 L886.3,1591.3 L887.6,1590.5 L888.7,1589.6 L889.9,1588.6 L891.1,1587.7 L892.2,1586.7 L893.4,1585.8 L894.5,1584.8 L895.7,1583.8 L896.8,1582.8 L897.9,1581.8 L899.0,1580.8 L900.1,1579.8 L901.2,1578.8 L902.3,1577.7 L903.3,1576.7 L904.4,1575.6 L905.4,1574.5 L906.5,1573.4 L907.5,1572.3 L908.5,1571.2 L909.5,1570.1 L910.6,1569.0 L911.6,1567.9 L912.6,1566.9 L913.7,1565.8 L914.7,1564.7 L915.7,1563.6 L916.7,1562.5 L917.8,1561.4 L918.8,1560.3 L919.8,1559.2 L920.8,1558.1 L921.9,1557.0 L922.9,1555.9 L923.9,1554.8 L924.9,1553.7 L925.9,1552.6 L926.9,1551.5 L928.0,1550.4 L929.1,1549.4 L930.2,1548.4 L931.3,1547.4 L932.5,1546.5 L933.8,1545.7 L935.0,1544.9 L936.4,1544.4 L937.7,1544.1 L939.1,1544.1 L940.5,1544.4 L941.8,1544.9 L943.1,1545.7 L944.3,1546.5 L945.5,1547.5 L946.5,1548.5 L947.6,1549.6 L948.5,1550.7 L949.5,1551.9 L950.3,1553.1 L951.2,1554.3 L952.0,1555.6 L952.9,1556.8 L953.7,1558.1 L954.5,1559.3 L955.3,1560.6 L956.1,1561.9 L956.9,1563.1 L957.7,1564.4 L958.5,1565.7 L959.4,1566.9 L960.2,1568.1 L961.1,1569.4 L962.0,1570.5 L963.0,1571.7 L963.9,1572.8 L964.9,1573.9 L966.0,1575.1 L967.0,1576.1 L968.0,1577.2 L969.0,1578.3 L970.1,1579.4 L971.1,1580.5 L972.1,1581.6 L973.1,1582.8 L974.0,1583.9 L975.0,1585.1 L976.0,1586.2 L977.0,1587.3 L978.1,1588.3 L979.3,1589.2 L980.5,1590.0 L981.8,1590.7 L983.2,1591.3 L984.6,1591.9 L986.0,1592.4 L987.4,1592.8 L988.9,1593.2 L990.3,1593.5 L991.8,1593.9 L993.3,1594.2 L994.7,1594.6 L996.2,1594.9 L997.6,1595.3 L999.1,1595.6 L1000.6,1596.0 L1002.0,1596.3 L1003.5,1596.7 L1004.9,1597.0 L1006.4,1597.4 L1007.9,1597.7 L1009.3,1598.0 L1010.8,1598.3 L1012.3,1598.6 L1013.7,1598.9 L1015.2,1599.2 L1016.7,1599.5 L1018.1,1599.8 L1019.6,1600.0 L1021.1,1600.3 L1022.6,1600.5 L1024.1,1600.7 L1025.6,1600.9 L1027.0,1601.1 L1028.5,1601.3 L1030.0,1601.5 L1031.5,1601.6 L1033.0,1601.7 L1034.5,1601.9 L1036.0,1602.0 L1037.5,1602.0 L1039.0,1602.1 L1040.5,1602.2 L1042.0,1602.3 L1043.5,1602.3 L1045.0,1602.4 L1046.5,1602.4 L1048.0,1602.5 L1049.5,1602.5 L1051.0,1602.6 L1052.5,1602.6 L1054.0,1602.7 L1055.5,1602.7 L1057.0,1602.7 L1058.5,1602.8 L1060.0,1602.8 L1061.5,1602.9 L1063.0,1602.9 L1064.5,1603.0 L1066.0,1603.1 L1067.5,1603.1 L1069.0,1603.2 L1070.5,1603.3 L1072.0,1603.4 L1073.5,1603.5 L1075.0,1603.7 L1076.5,1603.8 L1077.9,1604.0 L1079.4,1604.1 L1080.9,1604.3 L1082.4,1604.5 L1083.9,1604.7 L1085.4,1604.9 L1086.9,1605.1 L1088.4,1605.3 L1089.9,1605.5 L1091.3,1605.7 L1092.8,1605.9 L1094.3,1606.1 L1095.8,1606.3 L1097.3,1606.5 L1098.8,1606.6 L1100.3,1606.8 L1101.8,1606.9 L1103.3,1607.0 L1104.8,1607.2 L1106.3,1607.3 L1107.8,1607.3 L1109.3,1607.4 L1110.7,1607.5 L1112.2,1607.5 L1113.7,1607.6 L1115.2,1607.6 L1116.7,1607.6 L1118.2,1607.6 L1119.7,1607.7 L1121.2,1607.7 L1122.7,1607.7 L1124.2,1607.7 L1125.7,1607.7 L1127.2,1607.7 L1128.7,1607.7 L1130.2,1607.7 L1131.7,1607.6 L1133.2,1607.6 L1134.7,1607.6 L1136.2,1607.6 L1137.7,1607.5 L1139.2,1607.5 L1140.7,1607.4 L1142.2,1607.4 L1143.7,1607.3 L1145.2,1607.3 L1146.7,1607.2 L1148.2,1607.1 L1149.7,1607.0 L1151.2,1606.9 L1152.7,1606.7 L1154.2,1606.6 L1155.7,1606.4 L1157.2,1606.1 L1158.7,1605.8 L1160.1,1605.5 L1161.6,1605.2 L1163.0,1604.8 L1164.5,1604.4 L1165.9,1604.0 L1167.3,1603.5 L1168.8,1603.1 L1170.2,1602.6 L1171.6,1602.2 L1173.1,1601.7 L1174.5,1601.2 L1175.9,1600.8 L1177.3,1600.3 L1178.8,1599.9 L1180.2,1599.5 L1181.7,1599.0 L1183.1,1598.6 L1184.5,1598.1 L1185.9,1597.6 L1187.3,1597.1 L1188.7,1596.6 L1190.1,1596.0 L1191.5,1595.4 L1192.8,1594.7 L1194.1,1594.0 L1195.4,1593.2 L1196.7,1592.4 L1198.0,1591.6 L1199.2,1590.8 L1200.4,1589.9 L1201.6,1589.0 L1202.8,1588.1 L1203.9,1587.1 L1205.1,1586.1 L1206.2,1585.1 L1207.3,1584.1 L1208.4,1583.1 L1209.4,1582.0 L1210.5,1581.0 L1211.5,1579.9 L1212.5,1578.8 L1213.5,1577.6 L1214.5,1576.5 L1215.4,1575.3 L1216.4,1574.1 L1217.3,1573.0 L1218.2,1571.8 L1219.1,1570.5 L1219.9,1569.3 L1220.8,1568.1 L1221.6,1566.9 L1222.5,1565.6 L1223.3,1564.4 L1224.1,1563.1 L1225.0,1561.9 L1225.8,1560.6 L1226.7,1559.4 L1227.5,1558.1 L1228.3,1556.9 L1229.1,1555.6 L1230.0,1554.4 L1230.9,1553.2 L1231.9,1552.1 L1232.9,1551.1 L1234.1,1550.1 L1235.3,1549.3 L1236.6,1548.6 L1238.0,1548.1 L1239.4,1547.7 L1240.9,1547.5 L1242.3,1547.5 L1243.8,1547.7 L1245.2,1548.1 L1246.6,1548.6 L1247.9,1549.2 L1249.3,1550.0 L1250.5,1550.7 L1251.8,1551.6 L1253.0,1552.4 L1254.2,1553.4 L1255.3,1554.4 L1256.4,1555.4 L1257.5,1556.4 L1258.6,1557.4 L1259.7,1558.4 L1260.8,1559.5 L1261.8,1560.5 L1262.9,1561.6 L1264.0,1562.6 L1265.0,1563.7 L1266.1,1564.8 L1267.1,1565.8 L1268.2,1566.9 L1269.2,1568.0 L1270.3,1569.1 L1271.3,1570.2 L1272.3,1571.3 L1273.3,1572.4 L1274.4,1573.5 L1275.4,1574.6 L1276.4,1575.7 L1277.4,1576.8 L1278.5,1577.8 L1279.6,1578.9 L1280.7,1579.9 L1281.8,1580.9 L1282.9,1581.8 L1284.1,1582.7 L1285.4,1583.6 L1286.6,1584.4 L1287.9,1585.2 L1289.2,1586.0 L1290.5,1586.7 L1291.8,1587.4 L1293.1,1588.1 L1294.5,1588.7 L1295.9,1589.3 L1297.2,1589.9 L1298.6,1590.5 L1300.0,1591.0 L1301.4,1591.6 L1302.8,1592.1 L1304.3,1592.5 L1305.7,1593.0 L1307.1,1593.4 L1308.6,1593.8 L1310.0,1594.2 L1311.5,1594.6 L1312.9,1595.0 L1314.4,1595.3 L1315.9,1595.7 L1317.3,1596.0 L1318.8,1596.3 L1320.3,1596.6 L1321.7,1596.8 L1323.2,1597.1 L1324.7,1597.4 L1326.2,1597.6 L1327.6,1597.9 L1329.1,1598.1 L1330.6,1598.4 L1332.1,1598.6 L1333.6,1598.8 L1335.1,1599.0 L1336.5,1599.2 L1338.0,1599.4 L1339.5,1599.6 L1341.0,1599.8 L1342.5,1600.0 L1344.0,1600.1 L1345.5,1600.3 L1347.0,1600.5 L1348.5,1600.6 L1350.0,1600.7 L1351.5,1600.9 L1352.9,1601.0 L1354.4,1601.1 L1355.9,1601.3 L1357.4,1601.4 L1358.9,1601.5 L1360.4,1601.6 L1361.9,1601.7 L1363.4,1601.8 L1364.9,1601.9 L1366.4,1602.0 L1367.9,1602.0 L1369.4,1602.1 L1370.9,1602.2 L1372.4,1602.3 L1373.9,1602.3 L1375.4,1602.4 L1376.9,1602.4 L1378.4,1602.5 L1379.9,1602.5 L1381.4,1602.6 L1382.9,1602.6 L1384.4,1602.6 L1385.9,1602.6 L1387.4,1602.6 L1388.9,1602.6 L1390.4,1602.5 L1391.9,1602.5 L1393.4,1602.5 L1394.9,1602.4 L1396.4,1602.4 L1397.9,1602.3 L1399.4,1602.3 L1400.9,1602.2 L1402.4,1602.1 L1403.9,1602.0 L1405.4,1602.0 L1406.9,1601.9 L1408.4,1601.8 L1409.9,1601.8 L1411.4,1601.7 L1412.9,1601.6 L1414.4,1601.6 L1415.9,1601.5 L1417.4,1601.4 L1418.9,1601.3 L1420.4,1601.3 L1421.9,1601.2 L1423.4,1601.1 L1424.9,1601.0 L1426.4,1600.9 L1427.9,1600.8 L1429.4,1600.7 L1430.9,1600.6 L1432.3,1600.4 L1433.8,1600.3 L1435.3,1600.1 L1436.8,1599.9 L1438.3,1599.7 L1439.8,1599.5 L1441.3,1599.3 L1442.8,1599.0 L1444.2,1598.8 L1445.7,1598.5 L1447.2,1598.2 L1448.7,1597.9 L1450.1,1597.6 L1451.6,1597.3 L1453.0,1597.0 L1454.5,1596.7 L1456.0,1596.3 L1457.4,1595.9 L1458.9,1595.6 L1460.3,1595.2 L1461.8,1594.8 L1463.2,1594.4 L1464.7,1594.0 L1466.1,1593.6 L1467.6,1593.2 L1469.0,1592.8 L1470.4,1592.4 L1471.9,1592.0 L1473.3,1591.5 L1474.8,1591.1 L1476.2,1590.7 L1477.6,1590.2 L1479.1,1589.8 L1480.5,1589.3 L1481.9,1588.9 L1483.3,1588.4 L1484.8,1587.9 L1486.2,1587.4 L1487.6,1586.9 L1489.0,1586.4 L1490.4,1585.9 L1491.8,1585.3 L1493.2,1584.8 L1494.6,1584.2 L1496.0,1583.6 L1497.3,1582.9 L1498.6,1582.3 L1500.0,1581.5 L1501.3,1580.8 L1502.5,1580.0 L1503.8,1579.2 L1505.0,1578.3 L1506.2,1577.4 L1507.3,1576.4 L1508.5,1575.5 L1509.6,1574.4 L1510.7,1573.4 L1511.7,1572.3 L1512.8,1571.3 L1513.8,1570.2 L1514.8,1569.0 L1515.7,1567.9 L1516.7,1566.7 L1517.6,1565.6 L1518.5,1564.4 L1519.4,1563.2 L1520.3,1561.9 L1521.2,1560.7 L1522.0,1559.5 L1522.9,1558.2 L1523.7,1557.0 L1524.5,1555.8 L1525.3,1554.5 L1526.1,1553.2 L1526.9,1551.9 L1527.7,1550.7 L1528.5,1549.4 L1529.2,1548.1 L1529.9,1546.8 L1530.7,1545.5 L1531.4,1544.1 L1532.1,1542.8 L1532.9,1541.5 L1533.6,1540.2 L1534.4,1538.9 L1535.1,1537.6 L1535.9,1536.3 L1536.7,1535.0 L1537.4,1533.8 L1538.2,1532.5 L1538.9,1531.2 L1539.7,1529.9 L1540.5,1528.6 L1541.3,1527.3 L1542.1,1526.1 L1542.9,1524.8 L1543.8,1523.6 L1544.8,1522.5 L1545.8,1521.3 L1546.8,1520.3 L1547.9,1519.2 L1549.0,1518.2 L1550.1,1517.3 L1551.4,1516.4 L1552.6,1515.8 L1554.0,1515.3 L1555.4,1515.1 L1556.8,1515.3 L1558.1,1515.7 L1559.4,1516.4 L1560.6,1517.2 L1561.8,1518.2 L1562.9,1519.2 L1563.9,1520.2 L1564.9,1521.4 L1565.8,1522.5 L1566.7,1523.7 L1567.6,1525.0 L1568.4,1526.2 L1569.2,1527.5 L1569.9,1528.8 L1570.7,1530.1 L1571.5,1531.4 L1572.2,1532.7 L1573.0,1533.9 L1573.8,1535.2 L1574.6,1536.5 L1575.4,1537.8 L1576.2,1539.0 L1576.9,1540.3 L1577.7,1541.6 L1578.5,1542.9 L1579.3,1544.2 L1580.0,1545.5 L1580.8,1546.7 L1581.6,1548.0 L1582.4,1549.3 L1583.2,1550.5 L1584.1,1551.8 L1584.9,1553.0 L1585.8,1554.3 L1586.7,1555.5 L1587.5,1556.7 L1588.4,1557.9 L1589.3,1559.1 L1590.3,1560.3 L1591.2,1561.5 L1592.1,1562.6 L1593.1,1563.8 L1594.0,1564.9 L1595.0,1566.1 L1596.0,1567.2 L1597.0,1568.3 L1598.0,1569.4 L1599.0,1570.5 L1600.1,1571.6 L1601.1,1572.7 L1602.2,1573.8 L1603.2,1574.8 L1604.3,1575.8 L1605.4,1576.9 L1606.5,1577.8 L1607.7,1578.8 L1608.9,1579.8 L1610.1,1580.6 L1611.3,1581.5 L1612.5,1582.3 L1613.8,1583.1 L1615.1,1583.8 L1616.4,1584.6 L1617.8,1585.3 L1619.1,1586.0 L1620.4,1586.7 L1621.7,1587.5 L1623.0,1588.2 L1624.3,1589.0 L1625.6,1589.8 L1626.8,1590.6 L1628.1,1591.3 L1629.4,1592.1 L1630.7,1592.8 L1632.0,1593.6 L1633.3,1594.3 L1634.7,1595.0 L1636.0,1595.6 L1637.4,1596.3 L1638.7,1596.9 L1640.1,1597.5 L1641.5,1598.0 L1642.9,1598.6 L1644.3,1599.0 L1645.8,1599.5 L1647.2,1599.9 L1648.6,1600.3 L1650.1,1600.7 L1651.6,1601.1 L1653.0,1601.4 L1654.5,1601.8 L1655.9,1602.1 L1657.4,1602.4 L1658.9,1602.7 L1660.4,1603.0 L1661.8,1603.2 L1663.3,1603.5 L1664.8,1603.7 L1666.3,1604.0 L1667.7,1604.2 L1669.2,1604.5 L1670.7,1604.7 L1672.2,1604.9 L1673.7,1605.2 L1675.2,1605.4 L1676.6,1605.6 L1678.1,1605.8 L1679.6,1606.1 L1681.1,1606.3 L1682.6,1606.5 L1684.1,1606.7 L1685.5,1606.9 L1687.0,1607.2 L1688.5,1607.4 L1690.0,1607.5 L1691.5,1607.7 L1693.0,1607.9 L1694.5,1608.1 L1696.0,1608.2 L1697.5,1608.4 L1698.9,1608.5 L1700.4,1608.7 L1701.9,1608.8 L1703.4,1609.0 L1704.9,1609.1 L1706.4,1609.3 L1707.9,1609.4 L1709.4,1609.5 L1710.9,1609.7 L1712.4,1609.8 L1713.9,1610.0 L1715.4,1610.2 L1716.9,1610.3 L1718.3,1610.5 L1719.8,1610.7 L1721.3,1610.9 L1722.8,1611.1 L1724.3,1611.3 L1725.8,1611.5 L1727.3,1611.8 L1728.7,1612.0 L1730.2,1612.2 L1731.7,1612.5 L1733.2,1612.7 L1734.7,1613.0 L1736.1,1613.2 L1737.6,1613.4 L1739.1,1613.7 L1740.6,1613.9 L1742.1,1614.1 L1743.6,1614.3 L1745.1,1614.5 L1746.5,1614.7 L1748.0,1614.8 L1749.5,1615.0 L1751.0,1615.1 L1752.5,1615.2 L1754.0,1615.4 L1755.5,1615.5 L1757.0,1615.6 L1758.5,1615.6 L1760.0,1615.7 L1761.5,1615.8 L1763.0,1615.9 L1764.5,1615.9 L1766.0,1616.0 L1767.5,1616.0 L1769.0,1616.1 L1770.5,1616.1 L1772.0,1616.2 L1773.5,1616.2 L1775.0,1616.2 L1776.5,1616.2 L1778.0,1616.3 L1779.5,1616.3 L1781.0,1616.3 L1782.5,1616.3 L1784.0,1616.3 L1785.5,1616.3 L1787.0,1616.4 L1788.5,1616.4 L1790.0,1616.4 L1791.5,1616.4 L1793.0,1616.4 L1794.5,1616.4 L1796.0,1616.4 L1797.5,1616.4 L1799.0,1616.4 L1800.5,1616.4 L1802.0,1616.4 L1803.5,1616.4 L1805.0,1616.4 L1806.5,1616.4 L1808.0,1616.4 L1809.5,1616.4 L1811.0,1616.4 L1812.5,1616.4 L1814.0,1616.4 L1815.5,1616.4 L1817.0,1616.4 L1818.5,1616.4 L1820.0,1616.3 L1821.5,1616.3 L1823.0,1616.3 L1824.5,1616.3 L1826.0,1616.3 L1827.5,1616.2 L1829.0,1616.2 L1830.5,1616.2 L1832.0,1616.2 L1833.5,1616.1 L1835.0,1616.1 L1836.5,1616.1 L1838.0,1616.0 L1839.5,1616.0 L1841.0,1616.0 L1842.5,1615.9 L1844.0,1615.9 L1845.5,1615.9 L1847.0,1615.8 L1848.5,1615.8 L1850.0,1615.8 L1851.5,1615.7 L1853.0,1615.7 L1854.5,1615.7 L1856.0,1615.6 L1857.5,1615.6 L1859.0,1615.6 L1860.5,1615.5 L1862.0,1615.5 L1863.5,1615.5 L1865.0,1615.4 L1866.5,1615.4 L1868.0,1615.4 L1869.5,1615.3 L1871.0,1615.3 L1872.5,1615.3 L1874.0,1615.3 L1875.5,1615.2 L1877.0,1615.2 L1878.5,1615.2 L1880.0,1615.2 L1881.5,1615.2 L1883.0,1615.1 L1884.5,1615.1 L1886.0,1615.1 L1887.5,1615.1 L1889.0,1615.1 L1890.5,1615.1 L1892.0,1615.0 L1893.5,1615.0 L1895.0,1615.0 L1896.5,1615.0 L1898.0,1615.0 L1899.5,1615.0 L1901.0,1615.0 L1902.5,1614.9 L1904.0,1614.9 L1905.5,1614.9 L1907.0,1614.9 L1908.5,1614.9 L1910.0,1614.9 L1911.5,1614.9 L1913.0,1614.9 L1914.5,1614.8 L1916.0,1614.8 L1917.5,1614.8 L1919.0,1614.8 L1920.5,1614.8 L1922.0,1614.8 L1923.5,1614.8 L1925.0,1614.8 L1926.5,1614.8 L1928.0,1614.7 L1929.5,1614.7 L1931.0,1614.7 L1932.5,1614.7 L1934.0,1614.7 L1935.5,1614.7 L1937.0,1614.7 L1938.5,1614.7 L1940.0,1614.7 L1941.5,1614.7 L1943.0,1614.6 L1944.5,1614.6 L1946.0,1614.6 L1947.5,1614.6 L1949.0,1614.6 L1950.5,1614.6 L1952.0,1614.6 L1953.5,1614.6 L1955.0,1614.5 L1956.5,1614.5 L1957.9,1614.5 L1959.1,1614.5 L1960.0,1614.5" fill="none" stroke="#ff0000" stroke-width="8.5" stroke-linejoin="round" stroke-linecap="round"/>
<path d="M182.3,1511.0 L183.2,1510.6 L184.2,1510.0 L185.5,1509.3 L186.8,1508.6 L188.1,1507.9 L189.4,1507.1 L190.7,1506.4 L192.0,1505.7 L193.3,1504.9 L194.6,1504.2 L195.9,1503.4 L197.2,1502.6 L198.4,1501.9 L199.7,1501.0 L200.9,1500.2 L202.2,1499.3 L203.4,1498.4 L204.5,1497.5 L205.7,1496.6 L206.9,1495.6 L208.0,1494.6 L209.1,1493.6 L210.2,1492.6 L211.3,1491.6 L212.4,1490.5 L213.4,1489.4 L214.4,1488.3 L215.5,1487.2 L216.5,1486.1 L217.5,1485.0 L218.4,1483.9 L219.4,1482.7 L220.3,1481.5 L221.2,1480.4 L222.1,1479.2 L223.0,1477.9 L223.9,1476.7 L224.7,1475.5 L225.5,1474.2 L226.3,1472.9 L227.1,1471.7 L227.9,1470.4 L228.6,1469.1 L229.3,1467.7 L230.0,1466.4 L230.7,1465.1 L231.3,1463.7 L231.9,1462.3 L232.5,1461.0 L233.1,1459.6 L233.7,1458.2 L234.2,1456.8 L234.8,1455.4 L235.3,1454.0 L235.8,1452.6 L236.3,1451.2 L236.8,1449.7 L237.2,1448.3 L237.7,1446.9 L238.2,1445.5 L238.6,1444.0 L239.0,1442.6 L239.5,1441.2 L239.9,1439.7 L240.3,1438.3 L240.7,1436.8 L241.2,1435.4 L241.6,1434.0 L242.0,1432.5 L242.4,1431.1 L242.8,1429.6 L243.1,1428.2 L243.5,1426.7 L243.9,1425.3 L244.3,1423.8 L244.7,1422.4 L245.0,1420.9 L245.4,1419.4 L245.7,1418.0 L246.1,1416.5 L246.4,1415.1 L246.7,1413.6 L246.9,1412.1 L247.2,1410.6 L247.4,1409.2 L247.6,1407.7 L247.8,1406.2 L248.0,1404.7 L248.1,1403.2 L248.3,1401.7 L248.5,1400.2 L248.6,1398.7 L248.8,1397.2 L249.0,1395.7 L249.2,1394.3 L249.4,1392.8 L249.6,1391.3 L249.8,1389.8 L250.0,1388.3 L250.2,1386.8 L250.4,1385.3 L250.7,1383.9 L250.9,1382.4 L251.1,1380.9 L251.4,1379.4 L251.6,1377.9 L251.8,1376.5 L252.0,1375.0 L252.2,1373.5 L252.5,1372.0 L252.7,1370.5 L252.9,1369.0 L253.1,1367.5 L253.3,1366.1 L253.5,1364.6 L253.7,1363.1 L253.8,1361.6 L254.0,1360.1 L254.2,1358.6 L254.4,1357.1 L254.6,1355.6 L254.8,1354.1 L254.9,1352.7 L255.1,1351.2 L255.3,1349.7 L255.5,1348.2 L255.6,1346.7 L255.8,1345.2 L255.9,1343.7 L256.1,1342.2 L256.3,1340.7 L256.4,1339.2 L256.6,1337.7 L256.7,1336.2 L256.9,1334.8 L257.0,1333.3 L257.2,1331.8 L257.3,1330.3 L257.5,1328.8 L257.6,1327.3 L257.8,1325.8 L257.9,1324.3 L258.1,1322.8 L258.2,1321.3 L258.4,1319.8 L258.5,1318.3 L258.7,1316.8 L258.9,1315.4 L259.0,1313.9 L259.2,1312.4 L259.4,1310.9 L259.5,1309.4 L259.6,1307.9 L259.8,1306.4 L259.9,1304.9 L260.0,1303.4 L260.2,1301.9 L260.3,1300.4 L260.4,1298.9 L260.5,1297.4 L260.5,1295.9 L260.6,1294.4 L260.7,1292.9 L260.8,1291.4 L260.8,1289.9 L260.9,1288.4 L261.0,1286.9 L261.0,1285.4 L261.1,1283.9 L261.1,1282.4 L261.2,1280.9 L261.2,1279.4 L261.3,1277.9 L261.3,1276.4 L261.3,1274.9 L261.4,1273.4 L261.4,1271.9 L261.5,1270.4 L261.5,1268.9 L261.6,1267.4 L261.6,1265.9 L261.6,1264.4 L261.7,1262.9 L261.7,1261.4 L261.8,1259.9 L261.8,1258.4 L261.9,1257.0 L261.9,1255.5 L262.0,1254.0 L262.0,1252.5 L262.1,1251.0 L262.1,1249.5 L262.2,1248.0 L262.2,1246.5 L262.3,1245.0 L262.4,1243.5 L262.4,1242.0 L262.5,1240.5 L262.5,1239.0 L262.6,1237.5 L262.7,1236.0 L262.8,1234.5 L262.8,1233.0 L262.9,1231.5 L263.0,1230.0 L263.0,1228.5 L263.1,1227.0 L263.2,1225.5 L263.3,1224.0 L263.3,1222.5 L263.4,1221.0 L263.5,1219.5 L263.6,1218.0 L263.7,1216.5 L263.7,1215.0 L263.8,1213.5 L263.9,1212.0 L264.0,1210.5 L264.1,1209.0 L264.1,1207.5 L264.2,1206.0 L264.3,1204.5 L264.4,1203.0 L264.5,1201.5 L264.5,1200.0 L264.6,1198.5 L264.7,1197.0 L264.8,1195.5 L264.9,1194.0 L265.0,1192.5 L265.0,1191.0 L265.1,1189.5 L265.2,1188.0 L265.3,1186.5 L265.4,1185.0 L265.5,1183.5 L265.5,1182.0 L265.6,1180.5 L265.7,1179.0 L265.8,1177.5 L265.9,1176.0 L265.9,1174.5 L266.0,1173.0 L266.1,1171.5 L266.2,1170.1 L266.3,1168.6 L266.4,1167.1 L266.4,1165.6 L266.5,1164.1 L266.6,1162.6 L266.7,1161.1 L266.8,1159.6 L266.8,1158.1 L266.9,1156.6 L267.0,1155.1 L267.1,1153.6 L267.2,1152.1 L267.2,1150.6 L267.3,1149.1 L267.4,1147.6 L267.5,1146.1 L267.5,1144.6 L267.6,1143.1 L267.7,1141.6 L267.8,1140.1 L267.8,1138.6 L267.9,1137.1 L268.0,1135.6 L268.1,1134.1 L268.1,1132.6 L268.2,1131.1 L268.3,1129.6 L268.3,1128.1 L268.4,1126.6 L268.5,1125.1 L268.5,1123.6 L268.6,1122.1 L268.7,1120.6 L268.7,1119.1 L268.8,1117.6 L268.9,1116.1 L268.9,1114.6 L269.0,1113.1 L269.1,1111.6 L269.1,1110.1 L269.2,1108.6 L269.2,1107.1 L269.3,1105.6 L269.4,1104.1 L269.4,1102.6 L269.5,1101.1 L269.5,1099.6 L269.6,1098.1 L269.6,1096.6 L269.7,1095.1 L269.8,1093.6 L269.8,1092.1 L269.9,1090.6 L269.9,1089.1 L270.0,1087.6 L270.0,1086.1 L270.1,1084.6 L270.1,1083.1 L270.2,1081.6 L270.3,1080.1 L270.3,1078.6 L270.4,1077.1 L270.4,1075.6 L270.5,1074.1 L270.5,1072.6 L270.6,1071.1 L270.6,1069.6 L270.7,1068.1 L270.7,1066.6 L270.8,1065.1 L270.8,1063.6 L270.9,1062.1 L270.9,1060.6 L271.0,1059.1 L271.0,1057.6 L271.1,1056.1 L271.1,1054.6 L271.2,1053.1 L271.2,1051.6 L271.3,1050.1 L271.3,1048.6 L271.4,1047.1 L271.4,1045.7 L271.5,1044.2 L271.5,1042.7 L271.6,1041.2 L271.6,1039.7 L271.6,1038.2 L271.7,1036.7 L271.7,1035.2 L271.8,1033.7 L271.8,1032.2 L271.9,1030.7 L271.9,1029.2 L272.0,1027.7 L272.0,1026.2 L272.1,1024.7 L272.1,1023.2 L272.2,1021.7 L272.2,1020.2 L272.2,1018.7 L272.3,1017.2 L272.3,1015.7 L272.4,1014.2 L272.4,1012.7 L272.5,1011.2 L272.5,1009.7 L272.6,1008.2 L272.6,1006.7 L272.6,1005.2 L272.7,1003.7 L272.7,1002.2 L272.8,1000.7 L272.8,999.2 L272.9,997.7 L272.9,996.2 L273.0,994.7 L273.0,993.2 L273.0,991.7 L273.1,990.2 L273.1,988.7 L273.2,987.2 L273.2,985.7 L273.2,984.2 L273.3,982.7 L273.3,981.2 L273.4,979.7 L273.4,978.2 L273.5,976.7 L273.5,975.2 L273.5,973.7 L273.6,972.2 L273.6,970.7 L273.6,969.2 L273.7,967.7 L273.7,966.2 L273.8,964.7 L273.8,963.2 L273.8,961.7 L273.9,960.2 L273.9,958.7 L273.9,957.2 L274.0,955.7 L274.0,954.2 L274.1,952.7 L274.1,951.2 L274.1,949.7 L274.2,948.2 L274.2,946.7 L274.2,945.2 L274.3,943.7 L274.3,942.2 L274.3,940.7 L274.4,939.2 L274.4,937.7 L274.4,936.2 L274.5,934.7 L274.5,933.2 L274.6,931.7 L274.6,930.2 L274.6,928.7 L274.7,927.2 L274.7,925.7 L274.7,924.2 L274.8,922.7 L274.8,921.2 L274.8,919.7 L274.9,918.2 L274.9,916.7 L274.9,915.2 L275.0,913.7 L275.0,912.2 L275.0,910.7 L275.1,909.2 L275.1,907.7 L275.2,906.2 L275.2,904.7 L275.2,903.2 L275.3,901.7 L275.3,900.2 L275.3,898.7 L275.4,897.2 L275.4,895.7 L275.4,894.2 L275.5,892.7 L275.5,891.2 L275.6,889.7 L275.6,888.2 L275.6,886.7 L275.7,885.2 L275.7,883.7 L275.7,882.2 L275.8,880.7 L275.8,879.2 L275.9,877.7 L275.9,876.2 L275.9,874.7 L276.0,873.2 L276.0,871.7 L276.1,870.2 L276.1,868.7 L276.1,867.2 L276.2,865.7 L276.2,864.2 L276.2,862.7 L276.3,861.2 L276.3,859.7 L276.4,858.2 L276.4,856.7 L276.4,855.2 L276.5,853.7 L276.5,852.2 L276.6,850.7 L276.6,849.2 L276.6,847.7 L276.7,846.2 L276.7,844.7 L276.8,843.2 L276.8,841.7 L276.8,840.2 L276.9,838.7 L276.9,837.2 L277.0,835.7 L277.0,834.2 L277.0,832.7 L277.1,831.2 L277.1,829.7 L277.1,828.2 L277.2,826.7 L277.2,825.2 L277.3,823.7 L277.3,822.2 L277.3,820.7 L277.4,819.2 L277.4,817.7 L277.5,816.2 L277.5,814.7 L277.5,813.2 L277.6,811.7 L277.6,810.2 L277.7,808.7 L277.7,807.2 L277.7,805.7 L277.8,804.2 L277.8,802.7 L277.9,801.2 L277.9,799.7 L277.9,798.2 L278.0,796.7 L278.0,795.2 L278.1,793.7 L278.1,792.2 L278.1,790.7 L278.2,789.2 L278.2,787.7 L278.3,786.2 L278.3,784.7 L278.3,783.2 L278.4,781.7 L278.4,780.2 L278.5,778.7 L278.5,777.2 L278.5,775.7 L278.6,774.2 L278.6,772.7 L278.7,771.2 L278.7,769.7 L278.7,768.2 L278.8,766.7 L278.8,765.2 L278.9,763.7 L278.9,762.2 L278.9,760.7 L279.0,759.2 L279.0,757.7 L279.1,756.2 L279.1,754.7 L279.1,753.2 L279.2,751.7 L279.2,750.2 L279.2,748.7 L279.3,747.2 L279.3,745.7 L279.4,744.2 L279.4,742.7 L279.4,741.2 L279.5,739.7 L279.5,738.2 L279.6,736.7 L279.6,735.2 L279.6,733.7 L279.7,732.2 L279.7,730.7 L279.8,729.2 L279.8,727.7 L279.8,726.2 L279.9,724.7 L279.9,723.2 L279.9,721.7 L280.0,720.2 L280.0,718.7 L280.1,717.2 L280.1,715.7 L280.1,714.2 L280.2,712.7 L280.2,711.2 L280.3,709.7 L280.3,708.2 L280.3,706.7 L280.4,705.2 L280.4,703.7 L280.4,702.2 L280.5,700.7 L280.5,699.2 L280.6,697.7 L280.6,696.2 L280.6,694.7 L280.7,693.2 L280.7,691.7 L280.7,690.2 L280.8,688.7 L280.8,687.2 L280.9,685.7 L280.9,684.2 L280.9,682.7 L281.0,681.2 L281.0,679.7 L281.0,678.2 L281.1,676.7 L281.1,675.2 L281.2,673.7 L281.2,672.2 L281.2,670.7 L281.3,669.2 L281.3,667.7 L281.3,666.2 L281.4,664.7 L281.4,663.2 L281.4,661.7 L281.5,660.2 L281.5,658.7 L281.6,657.2 L281.6,655.7 L281.6,654.2 L281.7,652.7 L281.7,651.2 L281.7,649.7 L281.8,648.2 L281.8,646.7 L281.8,645.2 L281.9,643.7 L281.9,642.2 L281.9,640.7 L282.0,639.2 L282.0,637.7 L282.0,636.2 L282.1,634.7 L282.1,633.2 L282.1,631.7 L282.2,630.2 L282.2,628.7 L282.2,627.2 L282.3,625.7 L282.3,624.2 L282.3,622.7 L282.4,621.2 L282.4,619.7 L282.4,618.2 L282.5,616.7 L282.5,615.2 L282.5,613.7 L282.6,612.2 L282.6,610.7 L282.6,609.2 L282.7,607.7 L282.7,606.3 L282.7,604.8 L282.8,603.3 L282.8,601.8 L282.8,600.3 L282.8,598.8 L282.9,597.3 L282.9,595.8 L282.9,594.3 L283.0,592.8 L283.0,591.3 L283.0,589.8 L283.0,588.3 L283.1,586.8 L283.1,585.3 L283.1,583.8 L283.2,582.3 L283.2,580.8 L283.2,579.3 L283.3,577.8 L283.3,576.3 L283.3,574.8 L283.3,573.3 L283.4,571.8 L283.4,570.3 L283.4,568.8 L283.5,567.3 L283.5,565.8 L283.5,564.3 L283.5,562.8 L283.6,561.3 L283.6,559.8 L283.6,558.3 L283.7,556.8 L283.7,555.3 L283.7,553.8 L283.7,552.3 L283.8,550.8 L283.8,549.3 L283.8,547.8 L283.9,546.3 L283.9,544.8 L283.9,543.3 L283.9,541.8 L284.0,540.3 L284.0,538.8 L284.0,537.3 L284.1,535.8 L284.1,534.3 L284.1,532.8 L284.1,531.3 L284.2,529.8 L284.2,528.3 L284.2,526.8 L284.3,525.3 L284.3,523.8 L284.3,522.3 L284.3,520.8 L284.4,519.3 L284.4,517.8 L284.4,516.3 L284.5,514.8 L284.5,513.3 L284.5,511.8 L284.6,510.3 L284.6,508.8 L284.6,507.3 L284.6,505.8 L284.7,504.3 L284.7,502.8 L284.7,501.3 L284.8,499.8 L284.8,498.3 L284.8,496.8 L284.9,495.3 L284.9,493.8 L284.9,492.3 L285.0,490.8 L285.0,489.3 L285.0,487.8 L285.1,486.3 L285.1,484.8 L285.1,483.3 L285.2,481.8 L285.2,480.3 L285.2,478.8 L285.3,477.3 L285.3,475.8 L285.3,474.3 L285.4,472.8 L285.4,471.3 L285.4,469.8 L285.5,468.3 L285.5,466.8 L285.5,465.3 L285.6,463.8 L285.6,462.3 L285.6,460.8 L285.7,459.3 L285.7,457.8 L285.7,456.3 L285.8,454.8 L285.8,453.3 L285.8,451.8 L285.9,450.3 L285.9,448.8 L285.9,447.3 L285.9,445.8 L286.0,444.3 L286.0,442.8 L286.0,441.3 L286.1,439.8 L286.1,438.3 L286.1,436.8 L286.2,435.3 L286.2,433.8 L286.2,432.3 L286.3,430.8 L286.3,429.3 L286.3,427.8 L286.3,426.3 L286.4,424.8 L286.4,423.3 L286.4,421.8 L286.5,420.3 L286.5,418.8 L286.5,417.3 L286.5,415.8 L286.6,414.3 L286.6,412.8 L286.6,411.3 L286.7,409.8 L286.7,408.3 L286.7,406.8 L286.7,405.3 L286.8,403.8 L286.8,402.3 L286.8,400.8 L286.8,399.3 L286.8,397.8 L286.9,396.3 L286.9,394.8 L286.9,393.3 L286.9,391.8 L287.0,390.3 L287.0,388.8 L287.0,387.3 L287.0,385.8 L287.0,384.3 L287.1,382.8 L287.1,381.3 L287.1,379.8 L287.1,378.3 L287.1,376.8 L287.1,375.3 L287.2,373.8 L287.2,372.3 L287.2,370.8 L287.2,369.3 L287.2,367.8 L287.2,366.3 L287.3,364.8 L287.3,363.3 L287.3,361.8 L287.3,360.3 L287.3,358.8 L287.3,357.3 L287.4,355.8 L287.4,354.3 L287.4,352.8 L287.4,351.3 L287.4,349.8 L287.4,348.3 L287.5,346.8 L287.5,345.3 L287.5,343.8 L287.5,342.3 L287.5,340.8 L287.5,339.3 L287.6,337.8 L287.6,336.3 L287.6,334.8 L287.6,333.3 L287.6,331.8 L287.7,330.3 L287.7,328.8 L287.7,327.3 L287.7,325.8 L287.7,324.3 L287.8,322.8 L287.8,321.3 L287.8,319.8 L287.8,318.3 L287.8,316.8 L287.9,315.3 L287.9,313.8 L287.9,312.3 L287.9,310.8 L287.9,309.3 L287.9,307.8 L288.0,306.3 L288.0,304.8 L288.0,303.3 L288.0,301.8 L288.0,300.3 L288.1,298.8 L288.1,297.3 L288.1,295.8 L288.1,294.3 L288.1,292.8 L288.2,291.3 L288.2,289.8 L288.2,288.3 L288.2,286.8 L288.3,285.3 L288.3,283.8 L288.3,282.3 L288.3,280.8 L288.3,279.3 L288.4,277.8 L288.4,276.3 L288.4,274.8 L288.4,273.3 L288.5,271.8 L288.5,270.3 L288.5,268.8 L288.5,267.3 L288.6,265.8 L288.6,264.3 L288.6,262.8 L288.7,261.3 L288.7,259.8 L288.7,258.3 L288.7,256.8 L288.8,255.3 L288.8,253.8 L288.8,252.3 L288.8,250.8 L288.9,249.3 L288.9,247.8 L288.9,246.3 L289.0,244.8 L289.0,243.3 L289.0,241.8 L289.0,240.3 L289.1,238.8 L289.1,237.3 L289.1,235.8 L289.2,234.3 L289.2,232.8 L289.2,231.3 L289.3,229.8 L289.3,228.3 L289.3,226.8 L289.3,225.3 L289.4,223.8 L289.4,222.3 L289.4,220.8 L289.5,219.3 L289.5,217.8 L289.6,216.3 L289.6,214.8 L289.6,213.3 L289.7,211.8 L289.7,210.3 L289.7,208.8 L289.8,207.3 L289.8,205.8 L289.9,204.3 L289.9,202.8 L290.0,201.3 L290.0,199.8 L290.0,198.3 L290.1,196.8 L290.1,195.3 L290.2,193.8 L290.2,192.3 L290.2,190.8 L290.3,189.3 L290.3,187.8 L290.3,186.3 L290.4,184.8 L290.4,183.3 L290.4,181.8 L290.5,180.3 L290.5,178.8 L290.6,177.3 L290.7,175.8 L290.7,174.3 L290.8,172.8 L290.9,171.3 L291.0,169.8 L291.2,168.3 L291.3,166.8 L291.5,165.3 L291.7,163.8 L291.9,162.3 L292.1,160.9 L292.3,159.4 L292.5,157.9 L292.8,156.4 L293.0,154.9 L293.3,153.5 L293.6,152.0 L294.0,150.6 L294.4,149.3 L294.8,148.3 L295.4,147.9 L295.9,148.2 L296.3,149.1 L296.7,150.3 L297.0,151.7 L297.2,153.2 L297.4,154.7 L297.6,156.1 L297.8,157.6 L297.9,159.1 L298.1,160.6 L298.2,162.1 L298.4,163.6 L298.5,165.1 L298.6,166.6 L298.7,168.1 L298.7,169.6 L298.8,171.1 L298.8,172.6 L298.8,174.1 L298.8,175.6 L298.8,177.1 L298.8,178.6 L298.8,180.1 L298.8,181.6 L298.7,183.1 L298.7,184.6 L298.7,186.1 L298.7,187.6 L298.6,189.1 L298.6,190.6 L298.6,192.1 L298.6,193.6 L298.6,195.1 L298.6,196.6 L298.6,198.1 L298.6,199.6 L298.6,201.1 L298.6,202.6 L298.7,204.1 L298.7,205.6 L298.7,207.1 L298.8,208.6 L298.8,210.1 L298.8,211.6 L298.9,213.1 L298.9,214.6 L298.9,216.1 L299.0,217.6 L299.0,219.1 L299.1,220.6 L299.1,222.1 L299.1,223.6 L299.2,225.1 L299.2,226.6 L299.3,228.1 L299.3,229.6 L299.3,231.1 L299.4,232.6 L299.4,234.1 L299.5,235.6 L299.5,237.1 L299.6,238.6 L299.6,240.1 L299.6,241.6 L299.7,243.1 L299.7,244.6 L299.8,246.1 L299.8,247.6 L299.9,249.1 L299.9,250.6 L299.9,252.1 L300.0,253.6 L300.0,255.1 L300.0,256.6 L300.1,258.1 L300.1,259.6 L300.2,261.1 L300.2,262.6 L300.2,264.1 L300.3,265.6 L300.3,267.1 L300.4,268.6 L300.4,270.1 L300.4,271.6 L300.5,273.1 L300.5,274.6 L300.6,276.1 L300.6,277.6 L300.6,279.1 L300.7,280.6 L300.7,282.1 L300.7,283.6 L300.8,285.1 L300.8,286.6 L300.8,288.1 L300.9,289.6 L300.9,291.1 L300.9,292.6 L300.9,294.1 L300.9,295.6 L301.0,297.1 L301.0,298.6 L301.0,300.1 L301.0,301.6 L301.0,303.1 L301.0,304.6 L301.0,306.1 L301.0,307.6 L301.0,309.1 L301.0,310.6 L301.0,312.1 L301.0,313.6 L301.0,315.1 L301.0,316.6 L301.0,318.1 L301.1,319.6 L301.1,321.1 L301.1,322.6 L301.1,324.1 L301.1,325.6 L301.1,327.1 L301.1,328.6 L301.1,330.1 L301.1,331.6 L301.2,333.1 L301.2,334.6 L301.2,336.1 L301.2,337.6 L301.2,339.1 L301.2,340.6 L301.2,342.1 L301.2,343.6 L301.3,345.1 L301.3,346.6 L301.3,348.1 L301.3,349.6 L301.3,351.1 L301.3,352.6 L301.4,354.1 L301.4,355.6 L301.4,357.1 L301.4,358.6 L301.4,360.1 L301.4,361.6 L301.4,363.1 L301.5,364.6 L301.5,366.1 L301.5,367.6 L301.5,369.1 L301.5,370.6 L301.5,372.1 L301.6,373.6 L301.6,375.1 L301.6,376.6 L301.6,378.1 L301.6,379.6 L301.6,381.1 L301.7,382.6 L301.7,384.1 L301.7,385.6 L301.7,387.1 L301.7,388.6 L301.8,390.1 L301.8,391.6 L301.8,393.1 L301.8,394.6 L301.8,396.1 L301.9,397.6 L301.9,399.1 L301.9,400.6 L301.9,402.1 L301.9,403.6 L302.0,405.1 L302.0,406.6 L302.0,408.1 L302.0,409.6 L302.1,411.1 L302.1,412.6 L302.1,414.1 L302.1,415.6 L302.2,417.1 L302.2,418.6 L302.2,420.1 L302.2,421.6 L302.3,423.1 L302.3,424.6 L302.3,426.1 L302.3,427.6 L302.4,429.1 L302.4,430.6 L302.4,432.1 L302.4,433.6 L302.5,435.1 L302.5,436.6 L302.5,438.1 L302.6,439.6 L302.6,441.1 L302.6,442.6 L302.6,444.1 L302.7,445.6 L302.7,447.1 L302.7,448.6 L302.8,450.1 L302.8,451.6 L302.8,453.1 L302.8,454.6 L302.9,456.1 L302.9,457.6 L302.9,459.1 L303.0,460.6 L303.0,462.1 L303.0,463.6 L303.1,465.1 L303.1,466.6 L303.1,468.1 L303.1,469.6 L303.2,471.1 L303.2,472.6 L303.2,474.1 L303.3,475.6 L303.3,477.1 L303.3,478.6 L303.4,480.1 L303.4,481.6 L303.4,483.1 L303.4,484.6 L303.5,486.1 L303.5,487.6 L303.5,489.1 L303.6,490.6 L303.6,492.1 L303.6,493.6 L303.7,495.1 L303.7,496.6 L303.7,498.1 L303.7,499.6 L303.8,501.1 L303.8,502.6 L303.8,504.1 L303.9,505.6 L303.9,507.1 L303.9,508.6 L303.9,510.1 L304.0,511.6 L304.0,513.1 L304.0,514.6 L304.1,516.1 L304.1,517.6 L304.1,519.1 L304.1,520.6 L304.2,522.1 L304.2,523.6 L304.2,525.1 L304.3,526.6 L304.3,528.1 L304.3,529.6 L304.3,531.1 L304.4,532.6 L304.4,534.1 L304.4,535.6 L304.4,537.1 L304.5,538.6 L304.5,540.1 L304.5,541.6 L304.6,543.1 L304.6,544.6 L304.6,546.1 L304.6,547.6 L304.7,549.1 L304.7,550.6 L304.7,552.1 L304.7,553.6 L304.8,555.1 L304.8,556.6 L304.8,558.1 L304.9,559.6 L304.9,561.1 L304.9,562.6 L304.9,564.1 L305.0,565.6 L305.0,567.1 L305.0,568.6 L305.1,570.1 L305.1,571.6 L305.1,573.1 L305.1,574.6 L305.2,576.1 L305.2,577.6 L305.2,579.1 L305.2,580.6 L305.3,582.1 L305.3,583.6 L305.3,585.1 L305.4,586.6 L305.4,588.1 L305.4,589.6 L305.4,591.1 L305.5,592.6 L305.5,594.1 L305.5,595.6 L305.6,597.1 L305.6,598.6 L305.6,600.1 L305.6,601.6 L305.7,603.1 L305.7,604.6 L305.7,606.1 L305.8,607.6 L305.8,609.1 L305.8,610.6 L305.8,612.1 L305.9,613.6 L305.9,615.1 L305.9,616.6 L306.0,618.1 L306.0,619.6 L306.0,621.1 L306.1,622.6 L306.1,624.1 L306.1,625.6 L306.1,627.1 L306.2,628.6 L306.2,630.1 L306.2,631.6 L306.3,633.1 L306.3,634.6 L306.3,636.1 L306.4,637.6 L306.4,639.1 L306.4,640.6 L306.5,642.1 L306.5,643.6 L306.5,645.1 L306.6,646.6 L306.6,648.1 L306.6,649.6 L306.7,651.1 L306.7,652.6 L306.7,654.1 L306.8,655.6 L306.8,657.1 L306.8,658.6 L306.9,660.1 L306.9,661.6 L306.9,663.1 L307.0,664.6 L307.0,666.1 L307.0,667.6 L307.0,669.1 L307.1,670.6 L307.1,672.1 L307.1,673.6 L307.2,675.1 L307.2,676.6 L307.2,678.1 L307.3,679.6 L307.3,681.1 L307.3,682.6 L307.4,684.1 L307.4,685.6 L307.4,687.1 L307.5,688.6 L307.5,690.1 L307.5,691.6 L307.6,693.1 L307.6,694.6 L307.6,696.1 L307.7,697.6 L307.7,699.1 L307.7,700.6 L307.7,702.1 L307.8,703.6 L307.8,705.1 L307.8,706.6 L307.9,708.1 L307.9,709.6 L307.9,711.1 L307.9,712.6 L308.0,714.1 L308.0,715.6 L308.0,717.1 L308.1,718.6 L308.1,720.1 L308.1,721.6 L308.1,723.1 L308.2,724.6 L308.2,726.1 L308.2,727.5 L308.3,729.0 L308.3,730.5 L308.3,732.0 L308.3,733.5 L308.4,735.0 L308.4,736.5 L308.4,738.0 L308.4,739.5 L308.5,741.0 L308.5,742.5 L308.5,744.0 L308.6,745.5 L308.6,747.0 L308.6,748.5 L308.6,750.0 L308.7,751.5 L308.7,753.0 L308.7,754.5 L308.7,756.0 L308.8,757.5 L308.8,759.0 L308.8,760.5 L308.8,762.0 L308.9,763.5 L308.9,765.0 L308.9,766.5 L309.0,768.0 L309.0,769.5 L309.0,771.0 L309.0,772.5 L309.1,774.0 L309.1,775.5 L309.1,777.0 L309.1,778.5 L309.2,780.0 L309.2,781.5 L309.2,783.0 L309.3,784.5 L309.3,786.0 L309.3,787.5 L309.3,789.0 L309.4,790.5 L309.4,792.0 L309.4,793.5 L309.4,795.0 L309.5,796.5 L309.5,798.0 L309.5,799.5 L309.5,801.0 L309.6,802.5 L309.6,804.0 L309.6,805.5 L309.7,807.0 L309.7,808.5 L309.7,810.0 L309.7,811.5 L309.8,813.0 L309.8,814.5 L309.8,816.0 L309.9,817.5 L309.9,819.0 L309.9,820.5 L309.9,822.0 L310.0,823.5 L310.0,825.0 L310.0,826.5 L310.0,828.0 L310.1,829.5 L310.1,831.0 L310.1,832.5 L310.2,834.0 L310.2,835.5 L310.2,837.0 L310.2,838.5 L310.3,840.0 L310.3,841.5 L310.3,843.0 L310.4,844.5 L310.4,846.0 L310.4,847.5 L310.5,849.0 L310.5,850.5 L310.5,852.0 L310.5,853.5 L310.6,855.0 L310.6,856.5 L310.6,858.0 L310.7,859.5 L310.7,861.0 L310.7,862.5 L310.8,864.0 L310.8,865.5 L310.8,867.0 L310.9,868.5 L310.9,870.0 L310.9,871.5 L310.9,873.0 L311.0,874.5 L311.0,876.0 L311.0,877.5 L311.1,879.0 L311.1,880.5 L311.1,882.0 L311.2,883.5 L311.2,885.0 L311.2,886.5 L311.3,888.0 L311.3,889.5 L311.4,891.0 L311.4,892.5 L311.4,894.0 L311.5,895.5 L311.5,897.0 L311.5,898.5 L311.6,900.0 L311.6,901.5 L311.6,903.0 L311.7,904.5 L311.7,906.0 L311.7,907.5 L311.8,909.0 L311.8,910.5 L311.8,912.0 L311.9,913.5 L311.9,915.0 L312.0,916.5 L312.0,918.0 L312.0,919.5 L312.1,921.0 L312.1,922.5 L312.1,924.0 L312.2,925.5 L312.2,927.0 L312.3,928.5 L312.3,930.0 L312.3,931.5 L312.4,933.0 L312.4,934.5 L312.4,936.0 L312.5,937.5 L312.5,939.0 L312.6,940.5 L312.6,942.0 L312.6,943.5 L312.7,945.0 L312.7,946.5 L312.8,948.0 L312.8,949.5 L312.8,951.0 L312.9,952.5 L312.9,954.0 L313.0,955.5 L313.0,957.0 L313.0,958.5 L313.1,960.0 L313.1,961.5 L313.2,963.0 L313.2,964.5 L313.2,966.0 L313.3,967.5 L313.3,969.0 L313.4,970.5 L313.4,972.0 L313.5,973.5 L313.5,975.0 L313.5,976.5 L313.6,978.0 L313.6,979.5 L313.7,981.0 L313.7,982.5 L313.7,984.0 L313.8,985.5 L313.8,987.0 L313.9,988.5 L313.9,990.0 L314.0,991.5 L314.0,993.0 L314.0,994.5 L314.1,996.0 L314.1,997.5 L314.2,999.0 L314.2,1000.5 L314.3,1002.0 L314.3,1003.5 L314.3,1005.0 L314.4,1006.5 L314.4,1008.0 L314.5,1009.5 L314.5,1011.0 L314.5,1012.5 L314.6,1014.0 L314.6,1015.5 L314.7,1017.0 L314.7,1018.5 L314.7,1020.0 L314.8,1021.5 L314.8,1023.0 L314.9,1024.5 L314.9,1026.0 L314.9,1027.5 L315.0,1029.0 L315.0,1030.5 L315.1,1032.0 L315.1,1033.5 L315.1,1035.0 L315.2,1036.5 L315.2,1038.0 L315.3,1039.5 L315.3,1041.0 L315.3,1042.5 L315.4,1044.0 L315.4,1045.5 L315.5,1047.0 L315.5,1048.5 L315.5,1050.0 L315.6,1051.5 L315.6,1053.0 L315.7,1054.5 L315.7,1056.0 L315.7,1057.5 L315.8,1059.0 L315.8,1060.5 L315.9,1062.0 L315.9,1063.5 L316.0,1065.0 L316.0,1066.5 L316.0,1068.0 L316.1,1069.5 L316.1,1071.0 L316.2,1072.5 L316.2,1074.0 L316.3,1075.5 L316.3,1077.0 L316.4,1078.5 L316.4,1080.0 L316.5,1081.5 L316.5,1083.0 L316.6,1084.5 L316.6,1086.0 L316.7,1087.5 L316.7,1089.0 L316.8,1090.5 L316.8,1092.0 L316.9,1093.5 L316.9,1095.0 L317.0,1096.5 L317.1,1098.0 L317.1,1099.5 L317.2,1101.0 L317.2,1102.5 L317.3,1104.0 L317.4,1105.5 L317.4,1107.0 L317.5,1108.5 L317.5,1110.0 L317.6,1111.5 L317.7,1113.0 L317.7,1114.5 L317.8,1116.0 L317.9,1117.5 L318.0,1119.0 L318.0,1120.5 L318.1,1122.0 L318.2,1123.5 L318.2,1125.0 L318.3,1126.5 L318.4,1128.0 L318.5,1129.4 L318.6,1130.9 L318.6,1132.4 L318.7,1133.9 L318.8,1135.4 L318.9,1136.9 L319.0,1138.4 L319.1,1139.9 L319.1,1141.4 L319.2,1142.9 L319.3,1144.4 L319.4,1145.9 L319.5,1147.4 L319.6,1148.9 L319.7,1150.4 L319.8,1151.9 L319.9,1153.4 L319.9,1154.9 L320.0,1156.4 L320.1,1157.9 L320.2,1159.4 L320.3,1160.9 L320.4,1162.4 L320.5,1163.9 L320.6,1165.4 L320.7,1166.9 L320.8,1168.4 L320.9,1169.9 L321.0,1171.4 L321.1,1172.9 L321.2,1174.4 L321.3,1175.9 L321.4,1177.4 L321.5,1178.9 L321.6,1180.4 L321.7,1181.9 L321.8,1183.4 L321.9,1184.8 L322.0,1186.3 L322.1,1187.8 L322.2,1189.3 L322.3,1190.8 L322.4,1192.3 L322.5,1193.8 L322.6,1195.3 L322.7,1196.8 L322.9,1198.3 L323.0,1199.8 L323.1,1201.3 L323.2,1202.8 L323.3,1204.3 L323.4,1205.8 L323.5,1207.3 L323.6,1208.8 L323.7,1210.3 L323.8,1211.8 L323.9,1213.3 L324.0,1214.8 L324.1,1216.3 L324.2,1217.8 L324.3,1219.3 L324.4,1220.8 L324.5,1222.3 L324.6,1223.8 L324.7,1225.3 L324.8,1226.8 L324.9,1228.2 L325.0,1229.7 L325.1,1231.2 L325.2,1232.7 L325.3,1234.2 L325.4,1235.7 L325.5,1237.2 L325.6,1238.7 L325.7,1240.2 L325.8,1241.7 L325.9,1243.2 L326.0,1244.7 L326.1,1246.2 L326.2,1247.7 L326.3,1249.2 L326.4,1250.7 L326.5,1252.2 L326.6,1253.7 L326.7,1255.2 L326.8,1256.7 L326.9,1258.2 L327.0,1259.7 L327.0,1261.2 L327.1,1262.7 L327.2,1264.2 L327.3,1265.7 L327.4,1267.2 L327.5,1268.7 L327.6,1270.2 L327.7,1271.7 L327.8,1273.2 L327.9,1274.7 L328.0,1276.2 L328.1,1277.7 L328.2,1279.2 L328.3,1280.6 L328.3,1282.1 L328.4,1283.6 L328.5,1285.1 L328.6,1286.6 L328.7,1288.1 L328.8,1289.6 L328.9,1291.1 L329.0,1292.6 L329.1,1294.1 L329.2,1295.6 L329.3,1297.1 L329.4,1298.6 L329.5,1300.1 L329.6,1301.6 L329.7,1303.1 L329.8,1304.6 L329.9,1306.1 L330.0,1307.6 L330.1,1309.1 L330.2,1310.6 L330.3,1312.1 L330.4,1313.6 L330.5,1315.1 L330.6,1316.6 L330.7,1318.1 L330.8,1319.6 L330.9,1321.1 L331.0,1322.6 L331.1,1324.1 L331.2,1325.6 L331.3,1327.1 L331.4,1328.5 L331.5,1330.0 L331.6,1331.5 L331.7,1333.0 L331.9,1334.5 L332.0,1336.0 L332.1,1337.5 L332.2,1339.0 L332.3,1340.5 L332.5,1342.0 L332.6,1343.5 L332.7,1345.0 L332.8,1346.5 L333.0,1348.0 L333.1,1349.5 L333.2,1351.0 L333.4,1352.5 L333.5,1354.0 L333.6,1355.5 L333.8,1357.0 L333.9,1358.4 L334.1,1359.9 L334.2,1361.4 L334.3,1362.9 L334.5,1364.4 L334.6,1365.9 L334.8,1367.4 L335.0,1368.9 L335.1,1370.4 L335.3,1371.9 L335.5,1373.4 L335.7,1374.9 L335.8,1376.3 L336.0,1377.8 L336.2,1379.3 L336.4,1380.8 L336.6,1382.3 L336.8,1383.8 L337.0,1385.3 L337.3,1386.7 L337.5,1388.2 L337.7,1389.7 L338.0,1391.2 L338.2,1392.7 L338.5,1394.2 L338.7,1395.6 L339.0,1397.1 L339.2,1398.6 L339.5,1400.1 L339.8,1401.5 L340.0,1403.0 L340.3,1404.5 L340.6,1406.0 L340.8,1407.4 L341.1,1408.9 L341.4,1410.4 L341.7,1411.9 L341.9,1413.3 L342.2,1414.8 L342.5,1416.3 L342.8,1417.8 L343.1,1419.2 L343.4,1420.7 L343.7,1422.2 L344.0,1423.6 L344.3,1425.1 L344.6,1426.6 L344.9,1428.0 L345.2,1429.5 L345.5,1431.0 L345.9,1432.4 L346.2,1433.9 L346.6,1435.4 L346.9,1436.8 L347.2,1438.3 L347.6,1439.7 L347.9,1441.2 L348.3,1442.7 L348.6,1444.1 L349.0,1445.6 L349.4,1447.0 L349.7,1448.5 L350.1,1449.9 L350.5,1451.4 L350.9,1452.8 L351.3,1454.3 L351.7,1455.7 L352.2,1457.2 L352.6,1458.6 L353.0,1460.0 L353.5,1461.4 L354.0,1462.9 L354.5,1464.3 L354.9,1465.7 L355.4,1467.1 L355.9,1468.5 L356.5,1469.9 L357.0,1471.4 L357.5,1472.8 L358.1,1474.1 L358.6,1475.5 L359.2,1476.9 L359.8,1478.3 L360.4,1479.7 L361.1,1481.0 L361.7,1482.4 L362.4,1483.7 L363.1,1485.0 L363.8,1486.4 L364.5,1487.7 L365.2,1489.0 L366.0,1490.3 L366.8,1491.6 L367.5,1492.9 L368.4,1494.1 L369.2,1495.4 L370.0,1496.6 L370.9,1497.8 L371.8,1499.0 L372.7,1500.2 L373.6,1501.4 L374.6,1502.6 L375.5,1503.7 L376.5,1504.8 L377.5,1506.0 L378.5,1507.1 L379.6,1508.1 L380.6,1509.2 L381.7,1510.2 L382.8,1511.3 L384.0,1512.2 L385.1,1513.2 L386.3,1514.1 L387.5,1515.0 L388.8,1515.8 L390.0,1516.6 L391.3,1517.4 L392.6,1518.1 L394.0,1518.8 L395.3,1519.4 L396.7,1520.0 L398.1,1520.4 L399.6,1520.8 L401.0,1521.0 L402.5,1521.0 L403.9,1520.9 L405.3,1520.5 L406.7,1519.9 L408.0,1519.2 L409.2,1518.4 L410.5,1517.5 L411.7,1516.6 L412.9,1515.7 L414.1,1514.8 L415.3,1514.0 L416.5,1513.1 L417.7,1512.2 L418.8,1511.2 L420.0,1510.3 L421.2,1509.3 L422.4,1508.5 L423.6,1507.7 L424.9,1507.0 L426.3,1506.6 L427.7,1506.4 L429.1,1506.6 L430.4,1507.1 L431.7,1507.8 L432.8,1508.6 L434.0,1509.6 L435.1,1510.6 L436.2,1511.6 L437.2,1512.7 L438.3,1513.7 L439.4,1514.8 L440.4,1515.9 L441.4,1517.0 L442.4,1518.2 L443.3,1519.3 L444.3,1520.4 L445.3,1521.6 L446.3,1522.6 L447.4,1523.7 L448.5,1524.7 L449.6,1525.7 L450.8,1526.6 L452.0,1527.5 L453.2,1528.4 L454.5,1529.2 L455.8,1530.0 L457.1,1530.7 L458.4,1531.3 L459.8,1531.9 L461.2,1532.3 L462.7,1532.7 L464.2,1533.0 L465.6,1533.2 L467.1,1533.3 L468.6,1533.5 L470.1,1533.5 L471.6,1533.6 L473.1,1533.7 L474.6,1533.7 L476.1,1533.8 L477.6,1533.9 L479.1,1534.0 L480.6,1534.1 L482.1,1534.3 L483.6,1534.4 L485.1,1534.6 L486.6,1534.8 L488.0,1535.0 L489.5,1535.2 L491.0,1535.4 L492.5,1535.6 L494.0,1535.7 L495.5,1535.8 L497.0,1535.9 L498.5,1536.0 L500.0,1536.0 L501.5,1536.0 L503.0,1535.9 L504.5,1535.8 L506.0,1535.6 L507.4,1535.4 L508.9,1535.2 L510.4,1535.0 L511.9,1534.7 L513.4,1534.5 L514.8,1534.2 L516.3,1534.0 L517.8,1533.8 L519.3,1533.7 L520.8,1533.6 L522.3,1533.6 L523.8,1533.6 L525.3,1533.6 L526.8,1533.7 L528.3,1533.9 L529.8,1534.1 L531.2,1534.3 L532.7,1534.6 L534.2,1534.8 L535.7,1535.1 L537.1,1535.5 L538.6,1535.8 L540.0,1536.1 L541.5,1536.5 L543.0,1536.9 L544.4,1537.2 L545.9,1537.6 L547.3,1538.0 L548.8,1538.3 L550.2,1538.7 L551.7,1539.0 L553.2,1539.4 L554.6,1539.7 L556.1,1540.0 L557.6,1540.3 L559.0,1540.5 L560.5,1540.8 L562.0,1540.9 L563.5,1541.0 L565.0,1541.1 L566.5,1541.0 L568.0,1540.8 L569.4,1540.5 L570.9,1540.2 L572.3,1539.8 L573.8,1539.4 L575.2,1539.0 L576.7,1538.7 L578.1,1538.5 L579.6,1538.4 L581.1,1538.4 L582.6,1538.5 L584.1,1538.7 L585.6,1538.9 L587.0,1539.2 L588.5,1539.5 L589.9,1539.9 L591.4,1540.2 L592.9,1540.6 L594.3,1541.0 L595.8,1541.4 L597.2,1541.8 L598.7,1542.1 L600.1,1542.5 L601.6,1542.8 L603.0,1543.2 L604.5,1543.5 L606.0,1543.7 L607.5,1543.9 L609.0,1544.1 L610.4,1544.3 L611.9,1544.4 L613.4,1544.5 L614.9,1544.6 L616.4,1544.7 L617.9,1544.8 L619.4,1544.8 L620.9,1544.8 L622.4,1544.9 L623.9,1544.9 L625.4,1544.9 L626.9,1544.9 L628.4,1544.9 L629.9,1544.9 L631.4,1544.8 L632.9,1544.8 L634.4,1544.7 L635.9,1544.6 L637.4,1544.5 L638.9,1544.4 L640.4,1544.3 L641.9,1544.2 L643.4,1544.0 L644.9,1543.8 L646.4,1543.6 L647.8,1543.3 L649.3,1542.9 L650.7,1542.5 L652.1,1542.0 L653.5,1541.4 L654.8,1540.8 L656.2,1540.1 L657.5,1539.5 L658.9,1538.9 L660.3,1538.4 L661.7,1538.0 L663.2,1537.7 L664.7,1537.6 L666.2,1537.6 L667.7,1537.6 L669.2,1537.7 L670.7,1537.9 L672.1,1538.0 L673.6,1538.3 L675.1,1538.5 L676.6,1538.8 L678.1,1539.0 L679.5,1539.3 L681.0,1539.6 L682.5,1539.8 L684.0,1540.1 L685.4,1540.3 L686.9,1540.6 L688.4,1540.8 L689.9,1540.9 L691.4,1541.0 L692.9,1541.1 L694.4,1541.1 L695.9,1541.1 L697.4,1541.0 L698.9,1540.9 L700.4,1540.7 L701.9,1540.6 L703.3,1540.4 L704.8,1540.2 L706.3,1540.0 L707.8,1539.8 L709.3,1539.6 L710.8,1539.4 L712.3,1539.3 L713.8,1539.2 L715.3,1539.2 L716.8,1539.1 L718.3,1539.0 L719.8,1539.0 L721.3,1539.0 L722.8,1539.0 L724.3,1538.9 L725.8,1538.9 L727.3,1538.9 L728.8,1538.9 L730.3,1538.9 L731.8,1538.9 L733.3,1538.9 L734.8,1539.0 L736.3,1539.0 L737.8,1539.0 L739.3,1539.0 L740.8,1539.0 L742.3,1539.0 L743.8,1539.0 L745.3,1539.0 L746.8,1539.0 L748.3,1539.1 L749.8,1539.1 L751.3,1539.1 L752.8,1539.1 L754.3,1539.1 L755.8,1539.0 L757.3,1539.0 L758.8,1539.0 L760.3,1539.0 L761.8,1539.0 L763.3,1538.9 L764.8,1538.9 L766.3,1538.9 L767.8,1538.9 L769.3,1538.9 L770.8,1538.9 L772.3,1538.8 L773.8,1538.8 L775.3,1538.8 L776.8,1538.8 L778.3,1538.7 L779.8,1538.7 L781.3,1538.6 L782.8,1538.5 L784.3,1538.5 L785.8,1538.4 L787.3,1538.3 L788.8,1538.1 L790.2,1538.0 L791.7,1537.8 L793.2,1537.7 L794.7,1537.5 L796.2,1537.3 L797.7,1537.1 L799.2,1536.9 L800.7,1536.7 L802.1,1536.5 L803.6,1536.2 L805.1,1536.0 L806.6,1535.7 L808.1,1535.4 L809.5,1535.2 L811.0,1534.9 L812.5,1534.6 L813.9,1534.3 L815.4,1534.0 L816.9,1533.6 L818.3,1533.3 L819.8,1533.0 L821.3,1532.6 L822.7,1532.3 L824.2,1531.9 L825.6,1531.5 L827.1,1531.1 L828.5,1530.7 L830.0,1530.3 L831.4,1529.9 L832.9,1529.5 L834.3,1529.1 L835.7,1528.7 L837.2,1528.2 L838.6,1527.8 L840.0,1527.3 L841.5,1526.9 L842.9,1526.4 L844.3,1525.9 L845.7,1525.5 L847.1,1525.0 L848.6,1524.5 L850.0,1524.0 L851.4,1523.5 L852.8,1523.0 L854.2,1522.5 L855.7,1522.0 L857.1,1521.5 L858.5,1521.0 L859.9,1520.5 L861.3,1520.0 L862.7,1519.4 L864.1,1518.8 L865.4,1518.2 L866.8,1517.6 L868.1,1516.9 L869.5,1516.2 L870.8,1515.5 L872.1,1514.8 L873.4,1514.0 L874.6,1513.2 L875.9,1512.4 L877.1,1511.5 L878.4,1510.7 L879.6,1509.8 L880.8,1508.9 L882.0,1508.1 L883.2,1507.1 L884.4,1506.2 L885.6,1505.3 L886.7,1504.3 L887.9,1503.4 L889.0,1502.4 L890.1,1501.4 L891.3,1500.4 L892.4,1499.4 L893.5,1498.4 L894.6,1497.4 L895.6,1496.3 L896.7,1495.3 L897.8,1494.2 L898.8,1493.1 L899.8,1492.0 L900.8,1490.9 L901.8,1489.7 L902.7,1488.6 L903.6,1487.4 L904.5,1486.1 L905.3,1484.9 L906.1,1483.6 L906.8,1482.3 L907.5,1481.0 L908.1,1479.6 L908.7,1478.2 L909.3,1476.8 L909.8,1475.4 L910.3,1474.0 L910.8,1472.6 L911.3,1471.2 L911.9,1469.8 L912.5,1468.4 L913.1,1467.1 L913.7,1465.7 L914.4,1464.4 L915.1,1463.0 L915.8,1461.7 L916.5,1460.4 L917.2,1459.1 L918.0,1457.8 L918.8,1456.5 L919.6,1455.2 L920.4,1454.0 L921.3,1452.8 L922.2,1451.6 L923.2,1450.5 L924.2,1449.4 L925.3,1448.4 L926.5,1447.5 L927.7,1446.7 L929.0,1445.9 L930.3,1445.3 L931.7,1444.8 L933.2,1444.6 L934.6,1444.6 L936.0,1444.8 L937.5,1445.2 L938.8,1445.8 L940.1,1446.5 L941.3,1447.3 L942.5,1448.2 L943.7,1449.2 L944.8,1450.2 L945.8,1451.2 L946.8,1452.4 L947.8,1453.5 L948.7,1454.7 L949.5,1456.0 L950.3,1457.2 L951.0,1458.5 L951.7,1459.9 L952.4,1461.2 L953.1,1462.5 L953.8,1463.9 L954.4,1465.2 L955.0,1466.6 L955.7,1468.0 L956.3,1469.3 L957.0,1470.7 L957.6,1472.0 L958.3,1473.4 L959.0,1474.7 L959.7,1476.0 L960.4,1477.3 L961.1,1478.7 L961.8,1480.0 L962.5,1481.3 L963.2,1482.6 L963.9,1483.9 L964.6,1485.3 L965.3,1486.6 L966.0,1487.9 L966.7,1489.3 L967.4,1490.6 L968.1,1491.9 L968.8,1493.3 L969.5,1494.6 L970.2,1495.9 L971.0,1497.2 L971.8,1498.5 L972.6,1499.7 L973.4,1501.0 L974.3,1502.2 L975.2,1503.4 L976.2,1504.5 L977.2,1505.6 L978.3,1506.6 L979.4,1507.6 L980.6,1508.4 L981.9,1509.2 L983.2,1509.9 L984.6,1510.5 L986.0,1511.0 L987.4,1511.4 L988.9,1511.8 L990.3,1512.2 L991.8,1512.5 L993.3,1512.8 L994.7,1513.2 L996.2,1513.5 L997.6,1513.9 L999.1,1514.3 L1000.5,1514.7 L1001.9,1515.2 L1003.3,1515.7 L1004.7,1516.3 L1006.1,1516.8 L1007.5,1517.4 L1008.9,1517.9 L1010.3,1518.5 L1011.7,1519.0 L1013.1,1519.5 L1014.6,1519.9 L1016.0,1520.4 L1017.4,1520.7 L1018.9,1521.0 L1020.4,1521.3 L1021.9,1521.4 L1023.4,1521.5 L1024.9,1521.5 L1026.4,1521.5 L1027.9,1521.4 L1029.3,1521.2 L1030.8,1521.1 L1032.3,1520.9 L1033.8,1520.7 L1035.3,1520.4 L1036.7,1520.1 L1038.2,1519.7 L1039.6,1519.3 L1041.1,1518.8 L1042.5,1518.3 L1043.9,1517.9 L1045.4,1517.5 L1046.8,1517.2 L1048.3,1517.0 L1049.8,1516.9 L1051.2,1516.9 L1052.7,1517.1 L1054.2,1517.4 L1055.6,1517.7 L1057.1,1518.2 L1058.5,1518.6 L1059.9,1519.1 L1061.3,1519.7 L1062.7,1520.2 L1064.1,1520.7 L1065.5,1521.2 L1067.0,1521.6 L1068.4,1522.0 L1069.9,1522.3 L1071.3,1522.5 L1072.8,1522.5 L1074.3,1522.4 L1075.7,1522.1 L1077.1,1521.6 L1078.5,1521.1 L1079.9,1520.5 L1081.2,1519.8 L1082.6,1519.2 L1084.0,1518.7 L1085.4,1518.3 L1086.9,1518.0 L1088.4,1517.7 L1089.8,1517.5 L1091.3,1517.3 L1092.8,1517.2 L1094.3,1517.1 L1095.8,1517.0 L1097.3,1516.9 L1098.8,1516.8 L1100.3,1516.7 L1101.8,1516.7 L1103.3,1516.6 L1104.8,1516.5 L1106.3,1516.5 L1107.8,1516.4 L1109.3,1516.4 L1110.8,1516.3 L1112.3,1516.3 L1113.8,1516.2 L1115.3,1516.1 L1116.8,1516.0 L1118.3,1515.9 L1119.8,1515.8 L1121.3,1515.8 L1122.8,1515.7 L1124.3,1515.6 L1125.8,1515.5 L1127.3,1515.5 L1128.8,1515.4 L1130.3,1515.4 L1131.8,1515.3 L1133.3,1515.2 L1134.8,1515.2 L1136.3,1515.1 L1137.8,1515.0 L1139.3,1514.9 L1140.8,1514.8 L1142.3,1514.6 L1143.7,1514.5 L1145.2,1514.3 L1146.7,1514.1 L1148.2,1513.8 L1149.7,1513.5 L1151.1,1513.2 L1152.6,1512.8 L1154.0,1512.5 L1155.5,1512.0 L1156.9,1511.6 L1158.3,1511.1 L1159.7,1510.6 L1161.2,1510.1 L1162.6,1509.6 L1163.9,1509.0 L1165.3,1508.5 L1166.7,1507.9 L1168.1,1507.3 L1169.5,1506.7 L1170.8,1506.0 L1172.2,1505.4 L1173.5,1504.7 L1174.9,1504.1 L1176.2,1503.4 L1177.5,1502.7 L1178.8,1501.9 L1180.1,1501.2 L1181.4,1500.4 L1182.7,1499.6 L1184.0,1498.8 L1185.2,1498.0 L1186.4,1497.1 L1187.6,1496.2 L1188.8,1495.3 L1190.0,1494.4 L1191.1,1493.4 L1192.2,1492.4 L1193.3,1491.4 L1194.4,1490.3 L1195.5,1489.3 L1196.5,1488.2 L1197.5,1487.1 L1198.5,1485.9 L1199.5,1484.8 L1200.4,1483.6 L1201.3,1482.4 L1202.1,1481.2 L1202.9,1479.9 L1203.7,1478.6 L1204.5,1477.4 L1205.2,1476.1 L1206.0,1474.7 L1206.7,1473.4 L1207.4,1472.1 L1208.1,1470.8 L1208.8,1469.5 L1209.5,1468.1 L1210.2,1466.8 L1210.9,1465.5 L1211.6,1464.1 L1212.3,1462.8 L1212.9,1461.5 L1213.6,1460.1 L1214.3,1458.8 L1214.9,1457.4 L1215.5,1456.1 L1216.2,1454.7 L1216.8,1453.3 L1217.5,1452.0 L1218.1,1450.6 L1218.8,1449.3 L1219.5,1448.0 L1220.2,1446.7 L1221.0,1445.4 L1221.7,1444.1 L1222.5,1442.8 L1223.3,1441.5 L1224.0,1440.2 L1224.8,1438.9 L1225.7,1437.7 L1226.5,1436.5 L1227.5,1435.3 L1228.5,1434.2 L1229.5,1433.2 L1230.7,1432.3 L1232.0,1431.5 L1233.3,1430.8 L1234.7,1430.4 L1236.1,1430.0 L1237.6,1429.9 L1239.0,1429.9 L1240.5,1430.1 L1241.9,1430.6 L1243.2,1431.1 L1244.5,1431.8 L1245.8,1432.7 L1247.0,1433.5 L1248.2,1434.5 L1249.3,1435.5 L1250.4,1436.5 L1251.4,1437.6 L1252.4,1438.7 L1253.4,1439.8 L1254.3,1441.0 L1255.1,1442.3 L1256.0,1443.5 L1256.8,1444.8 L1257.6,1446.0 L1258.4,1447.3 L1259.2,1448.6 L1260.0,1449.8 L1260.8,1451.1 L1261.5,1452.4 L1262.3,1453.7 L1263.0,1455.0 L1263.7,1456.3 L1264.4,1457.6 L1265.1,1459.0 L1265.8,1460.3 L1266.5,1461.6 L1267.2,1463.0 L1268.0,1464.3 L1268.7,1465.6 L1269.5,1466.8 L1270.4,1468.0 L1271.3,1469.2 L1272.3,1470.4 L1273.3,1471.5 L1274.3,1472.6 L1275.4,1473.6 L1276.5,1474.6 L1277.7,1475.5 L1278.8,1476.5 L1280.0,1477.4 L1281.2,1478.3 L1282.5,1479.2 L1283.7,1480.0 L1284.9,1480.8 L1286.2,1481.7 L1287.5,1482.5 L1288.7,1483.3 L1290.0,1484.1 L1291.3,1484.8 L1292.6,1485.6 L1293.9,1486.3 L1295.2,1487.0 L1296.6,1487.6 L1298.0,1488.2 L1299.4,1488.8 L1300.8,1489.2 L1302.2,1489.7 L1303.7,1490.0 L1305.1,1490.3 L1306.6,1490.5 L1308.1,1490.6 L1309.6,1490.7 L1311.1,1490.8 L1312.6,1490.8 L1314.1,1490.7 L1315.6,1490.7 L1317.1,1490.6 L1318.6,1490.5 L1320.1,1490.4 L1321.6,1490.3 L1323.1,1490.1 L1324.6,1489.9 L1326.0,1489.8 L1327.5,1489.6 L1329.0,1489.3 L1330.5,1489.1 L1332.0,1488.8 L1333.4,1488.5 L1334.9,1488.2 L1336.4,1487.9 L1337.8,1487.5 L1339.3,1487.1 L1340.7,1486.6 L1342.1,1486.1 L1343.5,1485.6 L1344.9,1485.0 L1346.2,1484.4 L1347.6,1483.7 L1348.9,1483.0 L1350.2,1482.3 L1351.5,1481.6 L1352.8,1480.8 L1354.1,1480.1 L1355.4,1479.3 L1356.7,1478.5 L1357.9,1477.6 L1359.2,1476.8 L1360.4,1475.9 L1361.6,1475.0 L1362.8,1474.1 L1364.0,1473.2 L1365.2,1472.3 L1366.4,1471.4 L1367.6,1470.6 L1368.9,1469.8 L1370.1,1469.0 L1371.4,1468.2 L1372.7,1467.5 L1374.1,1466.7 L1375.4,1466.0 L1376.7,1465.4 L1378.1,1464.7 L1379.4,1464.1 L1380.8,1463.5 L1382.2,1463.0 L1383.6,1462.5 L1385.1,1462.0 L1386.5,1461.6 L1388.0,1461.3 L1389.4,1461.0 L1390.9,1460.7 L1392.4,1460.5 L1393.9,1460.3 L1395.4,1460.2 L1396.9,1460.1 L1398.4,1460.1 L1399.9,1460.1 L1401.3,1460.2 L1402.8,1460.3 L1404.3,1460.6 L1405.8,1460.8 L1407.3,1461.2 L1408.7,1461.5 L1410.2,1461.9 L1411.6,1462.3 L1413.1,1462.7 L1414.5,1463.1 L1416.0,1463.5 L1417.4,1463.8 L1418.9,1464.1 L1420.4,1464.3 L1421.8,1464.5 L1423.3,1464.5 L1424.8,1464.5 L1426.3,1464.4 L1427.8,1464.2 L1429.2,1463.8 L1430.7,1463.5 L1432.1,1463.0 L1433.5,1462.6 L1435.0,1462.1 L1436.4,1461.6 L1437.8,1461.2 L1439.3,1460.8 L1440.7,1460.4 L1442.2,1460.0 L1443.6,1459.7 L1445.1,1459.4 L1446.6,1459.0 L1448.0,1458.8 L1449.5,1458.5 L1451.0,1458.2 L1452.4,1457.9 L1453.9,1457.6 L1455.4,1457.2 L1456.8,1456.9 L1458.3,1456.6 L1459.8,1456.2 L1461.2,1455.8 L1462.7,1455.4 L1464.1,1455.0 L1465.5,1454.5 L1466.9,1454.0 L1468.3,1453.5 L1469.7,1452.9 L1471.1,1452.3 L1472.4,1451.7 L1473.8,1451.0 L1475.1,1450.4 L1476.5,1449.6 L1477.8,1448.9 L1479.1,1448.2 L1480.4,1447.4 L1481.6,1446.6 L1482.9,1445.8 L1484.2,1445.0 L1485.4,1444.2 L1486.6,1443.3 L1487.8,1442.4 L1489.0,1441.5 L1490.2,1440.6 L1491.4,1439.7 L1492.5,1438.7 L1493.7,1437.7 L1494.7,1436.7 L1495.8,1435.6 L1496.9,1434.6 L1497.9,1433.4 L1498.8,1432.3 L1499.8,1431.1 L1500.7,1429.9 L1501.5,1428.7 L1502.3,1427.4 L1503.1,1426.2 L1503.9,1424.9 L1504.6,1423.6 L1505.3,1422.3 L1506.0,1420.9 L1506.7,1419.6 L1507.4,1418.2 L1508.0,1416.9 L1508.7,1415.5 L1509.4,1414.2 L1510.0,1412.8 L1510.6,1411.5 L1511.3,1410.1 L1511.9,1408.8 L1512.5,1407.4 L1513.0,1406.0 L1513.6,1404.6 L1514.2,1403.2 L1514.7,1401.8 L1515.2,1400.4 L1515.7,1399.0 L1516.3,1397.6 L1516.8,1396.2 L1517.3,1394.8 L1517.8,1393.4 L1518.3,1392.0 L1518.9,1390.5 L1519.4,1389.1 L1519.9,1387.7 L1520.4,1386.3 L1520.9,1384.9 L1521.4,1383.5 L1521.9,1382.1 L1522.4,1380.7 L1522.9,1379.2 L1523.4,1377.8 L1523.9,1376.4 L1524.4,1375.0 L1524.9,1373.6 L1525.4,1372.2 L1525.9,1370.8 L1526.4,1369.3 L1526.9,1367.9 L1527.4,1366.5 L1527.9,1365.1 L1528.4,1363.7 L1528.9,1362.3 L1529.4,1360.9 L1529.9,1359.4 L1530.4,1358.0 L1530.9,1356.6 L1531.4,1355.2 L1531.9,1353.8 L1532.4,1352.4 L1533.0,1351.0 L1533.5,1349.6 L1534.1,1348.2 L1534.6,1346.8 L1535.2,1345.4 L1535.8,1344.0 L1536.3,1342.6 L1536.9,1341.3 L1537.5,1339.9 L1538.1,1338.5 L1538.7,1337.1 L1539.3,1335.8 L1540.0,1334.4 L1540.6,1333.1 L1541.4,1331.8 L1542.1,1330.5 L1543.0,1329.3 L1543.9,1328.1 L1544.9,1327.0 L1546.0,1326.0 L1547.2,1325.1 L1548.4,1324.3 L1549.7,1323.6 L1551.1,1323.2 L1552.5,1323.1 L1553.9,1323.3 L1555.2,1323.8 L1556.5,1324.5 L1557.7,1325.3 L1558.8,1326.3 L1559.8,1327.4 L1560.8,1328.5 L1561.6,1329.7 L1562.4,1331.0 L1563.2,1332.3 L1563.8,1333.7 L1564.4,1335.0 L1565.0,1336.4 L1565.5,1337.8 L1566.0,1339.2 L1566.5,1340.6 L1567.0,1342.1 L1567.5,1343.5 L1568.0,1344.9 L1568.5,1346.3 L1569.1,1347.7 L1569.6,1349.1 L1570.2,1350.5 L1570.7,1351.9 L1571.3,1353.3 L1571.9,1354.7 L1572.5,1356.0 L1573.0,1357.4 L1573.6,1358.8 L1574.2,1360.2 L1574.7,1361.6 L1575.3,1363.0 L1575.8,1364.4 L1576.4,1365.8 L1576.9,1367.2 L1577.4,1368.6 L1577.9,1370.0 L1578.4,1371.4 L1578.9,1372.8 L1579.4,1374.2 L1579.9,1375.7 L1580.4,1377.1 L1580.9,1378.5 L1581.3,1379.9 L1581.8,1381.4 L1582.2,1382.8 L1582.7,1384.2 L1583.1,1385.7 L1583.6,1387.1 L1584.1,1388.5 L1584.5,1389.9 L1585.0,1391.4 L1585.5,1392.8 L1586.0,1394.2 L1586.5,1395.6 L1587.0,1397.0 L1587.5,1398.4 L1588.0,1399.8 L1588.5,1401.3 L1589.0,1402.7 L1589.5,1404.1 L1590.1,1405.5 L1590.6,1406.9 L1591.2,1408.3 L1591.7,1409.7 L1592.3,1411.1 L1592.9,1412.4 L1593.5,1413.8 L1594.1,1415.2 L1594.8,1416.5 L1595.4,1417.9 L1596.1,1419.2 L1596.8,1420.5 L1597.5,1421.9 L1598.2,1423.2 L1598.9,1424.5 L1599.7,1425.8 L1600.4,1427.1 L1601.2,1428.4 L1602.0,1429.7 L1602.8,1430.9 L1603.6,1432.2 L1604.4,1433.5 L1605.2,1434.7 L1606.0,1436.0 L1606.9,1437.2 L1607.7,1438.4 L1608.6,1439.7 L1609.5,1440.9 L1610.4,1442.1 L1611.3,1443.3 L1612.2,1444.5 L1613.1,1445.6 L1614.1,1446.8 L1615.0,1448.0 L1616.0,1449.1 L1616.9,1450.3 L1617.9,1451.5 L1618.8,1452.6 L1619.8,1453.8 L1620.8,1454.9 L1621.7,1456.1 L1622.7,1457.2 L1623.6,1458.4 L1624.6,1459.5 L1625.5,1460.7 L1626.5,1461.9 L1627.4,1463.1 L1628.3,1464.2 L1629.3,1465.4 L1630.2,1466.5 L1631.2,1467.6 L1632.3,1468.7 L1633.4,1469.8 L1634.4,1470.8 L1635.5,1471.8 L1636.6,1472.8 L1637.8,1473.8 L1638.9,1474.8 L1640.0,1475.8 L1641.2,1476.8 L1642.3,1477.7 L1643.5,1478.7 L1644.6,1479.6 L1645.8,1480.6 L1647.0,1481.5 L1648.1,1482.5 L1649.3,1483.4 L1650.5,1484.3 L1651.7,1485.2 L1652.9,1486.1 L1654.1,1487.0 L1655.3,1487.9 L1656.5,1488.8 L1657.7,1489.7 L1658.9,1490.6 L1660.2,1491.4 L1661.4,1492.3 L1662.7,1493.1 L1663.9,1493.9 L1665.2,1494.7 L1666.5,1495.5 L1667.7,1496.3 L1669.0,1497.1 L1670.3,1497.8 L1671.6,1498.6 L1672.9,1499.3 L1674.2,1500.0 L1675.6,1500.8 L1676.9,1501.5 L1678.2,1502.2 L1679.5,1502.9 L1680.9,1503.5 L1682.2,1504.2 L1683.6,1504.9 L1684.9,1505.5 L1686.3,1506.2 L1687.6,1506.8 L1689.0,1507.5 L1690.3,1508.1 L1691.7,1508.7 L1693.1,1509.3 L1694.4,1509.9 L1695.8,1510.5 L1697.2,1511.1 L1698.6,1511.6 L1700.0,1512.2 L1701.4,1512.7 L1702.8,1513.2 L1704.2,1513.7 L1705.6,1514.2 L1707.1,1514.7 L1708.5,1515.2 L1709.9,1515.7 L1711.3,1516.2 L1712.7,1516.7 L1714.2,1517.1 L1715.6,1517.7 L1717.0,1518.2 L1718.4,1518.7 L1719.8,1519.2 L1721.2,1519.8 L1722.5,1520.4 L1723.9,1521.0 L1725.3,1521.6 L1726.6,1522.3 L1728.0,1522.9 L1729.3,1523.6 L1730.7,1524.2 L1732.0,1524.9 L1733.4,1525.5 L1734.8,1526.1 L1736.2,1526.7 L1737.6,1527.2 L1739.0,1527.7 L1740.4,1528.2 L1741.8,1528.6 L1743.3,1528.9 L1744.8,1529.2 L1746.3,1529.4 L1747.7,1529.5 L1749.2,1529.6 L1750.7,1529.7 L1752.2,1529.7 L1753.7,1529.7 L1755.2,1529.7 L1756.7,1529.7 L1758.2,1529.7 L1759.7,1529.6 L1761.2,1529.7 L1762.7,1529.7 L1764.2,1529.8 L1765.7,1529.9 L1767.2,1530.0 L1768.7,1530.2 L1770.2,1530.5 L1771.6,1530.8 L1773.1,1531.1 L1774.6,1531.4 L1776.0,1531.8 L1777.5,1532.2 L1778.9,1532.6 L1780.4,1533.0 L1781.8,1533.4 L1783.2,1533.9 L1784.7,1534.3 L1786.1,1534.7 L1787.6,1535.1 L1789.0,1535.5 L1790.4,1535.9 L1791.9,1536.3 L1793.4,1536.6 L1794.8,1537.0 L1796.3,1537.2 L1797.8,1537.5 L1799.3,1537.7 L1800.7,1537.9 L1802.2,1538.1 L1803.7,1538.3 L1805.2,1538.4 L1806.7,1538.5 L1808.2,1538.7 L1809.7,1538.7 L1811.2,1538.8 L1812.7,1538.9 L1814.2,1538.9 L1815.7,1539.0 L1817.2,1539.0 L1818.7,1539.1 L1820.2,1539.1 L1821.7,1539.1 L1823.2,1539.2 L1824.7,1539.2 L1826.2,1539.3 L1827.7,1539.3 L1829.2,1539.4 L1830.7,1539.4 L1832.2,1539.5 L1833.7,1539.6 L1835.2,1539.7 L1836.7,1539.7 L1838.2,1539.8 L1839.7,1539.9 L1841.2,1540.0 L1842.7,1540.1 L1844.2,1540.2 L1845.7,1540.3 L1847.2,1540.4 L1848.7,1540.5 L1850.2,1540.6 L1851.7,1540.7 L1853.2,1540.8 L1854.6,1540.8 L1856.1,1540.9 L1857.6,1541.0 L1859.1,1541.1 L1860.6,1541.2 L1862.1,1541.3 L1863.6,1541.4 L1865.1,1541.5 L1866.6,1541.6 L1868.1,1541.7 L1869.6,1541.8 L1871.1,1541.9 L1872.6,1542.0 L1874.1,1542.1 L1875.6,1542.2 L1877.1,1542.3 L1878.6,1542.4 L1880.1,1542.5 L1881.6,1542.6 L1883.1,1542.7 L1884.6,1542.8 L1886.1,1542.9 L1887.6,1543.0 L1889.1,1543.1 L1890.6,1543.2 L1892.1,1543.3 L1893.6,1543.4 L1895.1,1543.5 L1896.6,1543.6 L1898.1,1543.8 L1899.6,1543.9 L1901.0,1544.0 L1902.5,1544.1 L1904.0,1544.2 L1905.5,1544.3 L1907.0,1544.4 L1908.5,1544.5 L1910.0,1544.6 L1911.5,1544.8 L1913.0,1544.8 L1914.5,1544.9 L1916.0,1545.0 L1917.5,1545.1 L1919.0,1545.2 L1920.5,1545.3 L1922.0,1545.3 L1923.5,1545.4 L1925.0,1545.5 L1926.5,1545.5 L1928.0,1545.6 L1929.5,1545.6 L1931.0,1545.7 L1932.5,1545.7 L1934.0,1545.7 L1935.5,1545.7 L1937.0,1545.8 L1938.5,1545.8 L1940.0,1545.8 L1941.5,1545.8 L1943.0,1545.8 L1944.5,1545.8 L1946.0,1545.9 L1947.5,1545.9 L1949.0,1545.9 L1950.5,1545.9 L1952.0,1545.9 L1953.5,1545.9 L1955.0,1545.9 L1956.5,1545.9 L1957.9,1546.0 L1959.1,1546.0 L1960.0,1546.0" fill="none" stroke="#0000ff" stroke-width="8.5" stroke-linejoin="round" stroke-linecap="round"/>
<rect x="181.5" y="29.5" width="1783.0" height="1692.0" fill="none" stroke="#000" stroke-width="7"/>
<path transform="translate(283.00,117.50) scale(0.9706,0.9615)" d="M17,3.6 C15.5,1 13,0 10,0 L6.5,0 C2.8,0 0,2.6 0,6.2 L0,9.6 C0,11 0.8,12 2,13.1 L17,26 L32,13.1 C33.2,12 34,11 34,9.6 L34,6.2 C34,2.6 31.2,0 27.5,0 L24,0 C21,0 18.5,1 17,3.6 Z" fill="#000"/>
<path transform="translate(285.00,642.00) scale(1.0000,0.9615)" d="M17,3.6 C15.5,1 13,0 10,0 L6.5,0 C2.8,0 0,2.6 0,6.2 L0,9.6 C0,11 0.8,12 2,13.1 L17,26 L32,13.1 C33.2,12 34,11 34,9.6 L34,6.2 C34,2.6 31.2,0 27.5,0 L24,0 C21,0 18.5,1 17,3.6 Z" fill="#000"/>
<path transform="translate(414.45,1556.00) scale(0.9853,0.9615)" d="M17,3.6 C15.5,1 13,0 10,0 L6.5,0 C2.8,0 0,2.6 0,6.2 L0,9.6 C0,11 0.8,12 2,13.1 L17,26 L32,13.1 C33.2,12 34,11 34,9.6 L34,6.2 C34,2.6 31.2,0 27.5,0 L24,0 C21,0 18.5,1 17,3.6 Z" fill="#000"/>
<path transform="translate(925.45,1509.80) scale(0.9853,0.9423)" d="M17,3.6 C15.5,1 13,0 10,0 L6.5,0 C2.8,0 0,2.6 0,6.2 L0,9.6 C0,11 0.8,12 2,13.1 L17,26 L32,13.1 C33.2,12 34,11 34,9.6 L34,6.2 C34,2.6 31.2,0 27.5,0 L24,0 C21,0 18.5,1 17,3.6 Z" fill="#000"/>
<path transform="translate(1228.50,1515.00) scale(1.0000,0.9423)" d="M17,3.6 C15.5,1 13,0 10,0 L6.5,0 C2.8,0 0,2.6 0,6.2 L0,9.6 C0,11 0.8,12 2,13.1 L17,26 L32,13.1 C33.2,12 34,11 34,9.6 L34,6.2 C34,2.6 31.2,0 27.5,0 L24,0 C21,0 18.5,1 17,3.6 Z" fill="#000"/>
<path transform="translate(1539.50,1483.00) scale(1.0294,0.9808)" d="M17,3.6 C15.5,1 13,0 10,0 L6.5,0 C2.8,0 0,2.6 0,6.2 L0,9.6 C0,11 0.8,12 2,13.1 L17,26 L32,13.1 C33.2,12 34,11 34,9.6 L34,6.2 C34,2.6 31.2,0 27.5,0 L24,0 C21,0 18.5,1 17,3.6 Z" fill="#000"/>
<path transform="translate(1541.40,1251.30) scale(1.0000,0.9846)" d="M17,3.6 C15.5,1 13,0 10,0 L6.5,0 C2.8,0 0,2.6 0,6.2 L0,9.6 C0,11 0.8,12 2,13.1 L17,26 L32,13.1 C33.2,12 34,11 34,9.6 L34,6.2 C34,2.6 31.2,0 27.5,0 L24,0 C21,0 18.5,1 17,3.6 Z" fill="#000"/>
<path transform="translate(460.80,230.00) scale(1.3235,1.2500)" d="M17,3.6 C15.5,1 13,0 10,0 L6.5,0 C2.8,0 0,2.6 0,6.2 L0,9.6 C0,11 0.8,12 2,13.1 L17,26 L32,13.1 C33.2,12 34,11 34,9.6 L34,6.2 C34,2.6 31.2,0 27.5,0 L24,0 C21,0 18.5,1 17,3.6 Z" fill="#000"/>
<path d="M1380.00,1426.60 L1385.19,1437.71 L1398.25,1438.82 L1388.39,1446.80 L1391.28,1458.60 L1380.00,1452.43 L1368.72,1458.60 L1371.61,1446.80 L1361.75,1438.82 L1374.81,1437.71 Z" fill="#000"/>
<path d="M1554.50,1288.00 L1559.69,1298.65 L1572.75,1299.73 L1562.89,1307.38 L1565.78,1318.70 L1554.50,1312.78 L1543.22,1318.70 L1546.11,1307.38 L1536.25,1299.73 L1549.31,1298.65 Z" fill="#000"/>
<path d="M432.20,303.70 L438.23,316.47 L453.40,317.76 L441.95,326.93 L445.30,340.50 L432.20,333.40 L419.10,340.50 L422.45,326.93 L411.00,317.76 L426.17,316.47 Z" fill="#000"/>
<line x1="1185" y1="102" x2="1372" y2="102" stroke="#000" stroke-width="9" stroke-linecap="round"/>
<line x1="1185" y1="206.8" x2="1372" y2="206.8" stroke="#ff0000" stroke-width="9" stroke-linecap="round"/>
<line x1="1185" y1="330.2" x2="1372" y2="330.2" stroke="#0000ff" stroke-width="9" stroke-linecap="round"/>
<text transform="translate(1420.70,132.40) scale(1.0755,1)" font-size="79.50" fill="#000">Ti foam</text>
<text transform="translate(1420.36,237.30) scale(1.1209,1)" font-size="78.50" fill="#000">TiO</text>
<text transform="translate(1556.08,260.30) scale(1.1352,1)" font-size="61.00" fill="#000">2</text>
<text transform="translate(1589.50,237.30) scale(1.1187,1)" font-size="78.50" fill="#000">/Ti</text>
<text transform="translate(1417.98,360.70) scale(1.1647,1)" font-size="75.00" fill="#000">MnO</text>
<text transform="translate(1599.83,372.40) scale(1.1593,1)" font-size="45.50" fill="#000">2</text>
<text transform="translate(1625.20,360.70) scale(1.1197,1)" font-size="78.00" fill="#000">/TiO</text>
<text transform="translate(1784.38,383.70) scale(1.1352,1)" font-size="61.00" fill="#000">2</text>
<text transform="translate(1818.70,360.70) scale(1.1317,1)" font-size="78.00" fill="#000">/Ti</text>
<text transform="translate(577.74,149.70) scale(1.2493,1)" font-size="77.30" fill="#000">λ</text>
<text transform="translate(623.78,172.60) scale(1.0961,1)" font-size="55.30" fill="#000">ex</text>
<text transform="translate(678.05,149.70) scale(1.1039,1)" font-size="78.80" fill="#000">=532nm</text>
<text transform="translate(511.70,258.90) scale(1.0973,1)" font-size="77.70" fill="#000">- Titanium dioxide</text>
<text transform="translate(456.21,338.10) scale(1.0748,1)" font-size="79.20" fill="#000">- Manganese dioxide</text>
<text transform="translate(691.78,1900.30) scale(1.1300,1)" font-size="83.20" fill="#000">Raman shift (cm</text>
<text transform="translate(1318.88,1864.90) scale(1.0470,1)" font-size="54.00" fill="#000">-</text>
<text transform="translate(1339.33,1864.90) scale(0.9877,1)" font-size="54.00" fill="#000">1</text>
<text transform="translate(1370.04,1900.30) scale(1.1669,1)" font-size="83.20" fill="#000">)</text>
<text transform="translate(93.30,1099.80) rotate(-90) scale(0.8800,1) translate(-3.40,0)" font-size="97.00">Intensity (a.u.)</text>
</svg>
</body></html>
